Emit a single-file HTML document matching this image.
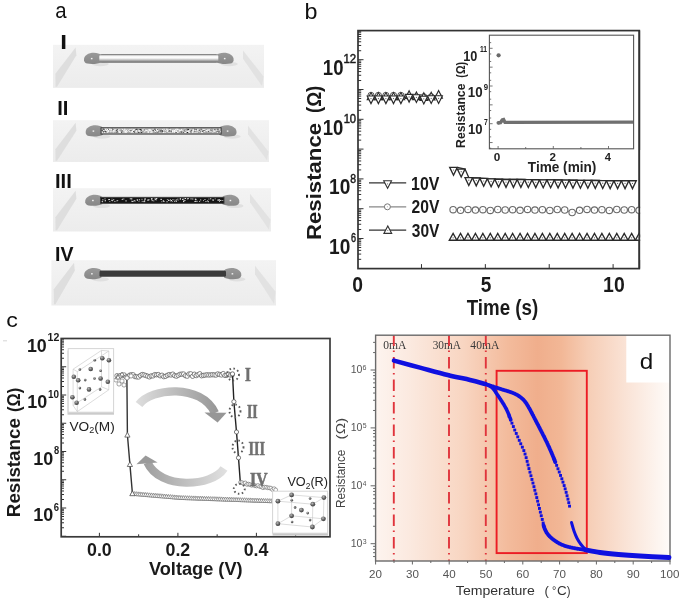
<!DOCTYPE html>
<html><head><meta charset="utf-8"><style>
html,body{margin:0;padding:0;background:#fff;width:685px;height:603px;overflow:hidden}
svg{display:block;filter:blur(0.35px)}
</style></head><body>
<svg width="685" height="603" viewBox="0 0 685 603">
<defs>
<linearGradient id="slab" x1="0" y1="0" x2="0" y2="1"><stop offset="0" stop-color="#f3f3f3"/><stop offset="1" stop-color="#ececec"/></linearGradient>
<linearGradient id="wire1" x1="0" y1="0" x2="0" y2="1"><stop offset="0" stop-color="#777"/><stop offset="0.1" stop-color="#9a9a9a"/><stop offset="0.2" stop-color="#f4f4f4"/><stop offset="0.45" stop-color="#fdfdfd"/><stop offset="0.62" stop-color="#cfcfcf"/><stop offset="0.85" stop-color="#8a8a8a"/><stop offset="1" stop-color="#6a6a6a"/></linearGradient>
<linearGradient id="padg" x1="0" y1="0" x2="0" y2="1"><stop offset="0" stop-color="#999"/><stop offset="1" stop-color="#878787"/></linearGradient>
<radialGradient id="sph" cx="0.4" cy="0.35" r="0.65"><stop offset="0" stop-color="#bdbdbd"/><stop offset="0.5" stop-color="#6f6f6f"/><stop offset="1" stop-color="#3a3a3a"/></radialGradient>
<linearGradient id="arrU" gradientUnits="userSpaceOnUse" x1="136" y1="0" x2="222" y2="0"><stop offset="0" stop-color="#dedede"/><stop offset="1" stop-color="#939393"/></linearGradient>
<linearGradient id="arrL" gradientUnits="userSpaceOnUse" x1="140" y1="0" x2="228" y2="0"><stop offset="0" stop-color="#9a9a9a"/><stop offset="1" stop-color="#e2e2e2"/></linearGradient>
<linearGradient id="dgrad" x1="0" y1="0" x2="1" y2="0">
<stop offset="0" stop-color="#fdf4ef"/><stop offset="0.12" stop-color="#fbe9df"/><stop offset="0.3" stop-color="#f8d5c1"/>
<stop offset="0.45" stop-color="#f3bb9c"/><stop offset="0.55" stop-color="#f0ae8c"/><stop offset="0.63" stop-color="#f2b796"/>
<stop offset="0.72" stop-color="#f6cdb5"/><stop offset="0.85" stop-color="#fae3d6"/><stop offset="1" stop-color="#fefbf9"/></linearGradient>
</defs>
<rect width="685" height="603" fill="#fff"/>
<text x="55.23" y="18.00" font-size="22" font-weight="normal" fill="#111" font-family='"Liberation Sans", sans-serif' textLength="11.37" lengthAdjust="spacingAndGlyphs" >a</text>
<rect x="53" y="44.8" width="211" height="43.10000000000001" fill="url(#slab)"/>
<polygon points="75.6,47.4 76.4,55.3 57,86.7 55.6,86.7 55.4,73.8" fill="#dcdcdc" opacity="0.9"/>
<polygon points="243,50.4 263.5,76.4 262,86.10000000000001 243,58.8" fill="#e0e0e0" opacity="0.9"/>
<ellipse cx="100.3" cy="64.0" rx="8.5" ry="2.2" fill="#e0e0e0"/>
<ellipse cx="229.3" cy="64.0" rx="8.5" ry="2.2" fill="#e0e0e0"/>
<path d="M84.00,60.40 C83.40,55.40 88.80,52.80 93.80,52.80 C97.30,52.90 99.80,53.80 100.90,55.00 L101.30,62.20 C98.30,64.00 91.30,64.40 87.30,63.50 C85.30,63.00 84.30,62.00 84.00,60.40 Z" fill="url(#padg)"/>
<rect x="90.9" y="57.9" width="1.6" height="1.4" fill="#f2f2f2"/>
<path d="M233.60,60.40 C234.20,55.40 228.80,52.80 223.80,52.80 C220.30,52.90 217.80,53.80 216.70,55.00 L216.30,62.20 C219.30,64.00 226.30,64.40 230.30,63.50 C232.30,63.00 233.30,62.00 233.60,60.40 Z" fill="url(#padg)"/>
<rect x="223.9" y="57.9" width="1.6" height="1.4" fill="#f2f2f2"/>
<rect x="99.3" y="54.1" width="119.00000000000001" height="8.6" rx="2.5" fill="url(#wire1)"/>
<rect x="53" y="120.2" width="216" height="41.8" fill="url(#slab)"/>
<polygon points="75.6,122.8 76.4,130.7 57,160.8 55.6,160.8 55.4,149.2" fill="#dcdcdc" opacity="0.9"/>
<polygon points="248,125.8 268.5,151.8 267,160.2 248,134.2" fill="#e0e0e0" opacity="0.9"/>
<ellipse cx="102.0" cy="136.5" rx="8.5" ry="2.2" fill="#e0e0e0"/>
<ellipse cx="232.2" cy="136.5" rx="8.5" ry="2.2" fill="#e0e0e0"/>
<path d="M85.70,132.90 C85.10,127.90 90.50,125.30 95.50,125.30 C99.00,125.40 101.50,126.30 102.60,127.50 L103.00,134.70 C100.00,136.50 93.00,136.90 89.00,136.00 C87.00,135.50 86.00,134.50 85.70,132.90 Z" fill="url(#padg)"/>
<rect x="92.6" y="130.4" width="1.6" height="1.4" fill="#f2f2f2"/>
<path d="M236.50,132.90 C237.10,127.90 231.70,125.30 226.70,125.30 C223.20,125.40 220.70,126.30 219.60,127.50 L219.20,134.70 C222.20,136.50 229.20,136.90 233.20,136.00 C235.20,135.50 236.20,134.50 236.50,132.90 Z" fill="url(#padg)"/>
<rect x="226.8" y="130.4" width="1.6" height="1.4" fill="#f2f2f2"/>
<rect x="101.0" y="127.70" width="120.19999999999999" height="6.4" fill="#a8a8a8"/>
<rect x="139.8" y="129.1" width="0.8" height="0.8" fill="#222"/>
<rect x="198.6" y="128.9" width="0.8" height="0.8" fill="#ffffff"/>
<rect x="105.9" y="130.1" width="0.8" height="0.8" fill="#ffffff"/>
<rect x="166.6" y="128.8" width="0.8" height="0.8" fill="#ffffff"/>
<rect x="176.0" y="130.6" width="1.3" height="1.0" fill="#ffffff"/>
<rect x="107.4" y="129.4" width="0.8" height="1.0" fill="#ffffff"/>
<rect x="151.0" y="130.5" width="1.0" height="0.8" fill="#ffffff"/>
<rect x="113.7" y="130.6" width="1.0" height="0.8" fill="#f6f6f6"/>
<rect x="166.2" y="128.8" width="1.3" height="0.8" fill="#ffffff"/>
<rect x="160.2" y="130.5" width="1.0" height="1.0" fill="#3a3a3a"/>
<rect x="170.7" y="130.2" width="0.8" height="0.8" fill="#ececec"/>
<rect x="184.1" y="129.5" width="1.0" height="1.0" fill="#ffffff"/>
<rect x="204.9" y="131.2" width="1.3" height="0.8" fill="#ececec"/>
<rect x="115.5" y="130.1" width="1.0" height="0.8" fill="#3a3a3a"/>
<rect x="211.8" y="130.1" width="0.8" height="1.0" fill="#222"/>
<rect x="141.7" y="129.8" width="1.3" height="1.0" fill="#ffffff"/>
<rect x="109.6" y="128.9" width="1.0" height="0.8" fill="#ececec"/>
<rect x="108.7" y="131.1" width="1.3" height="1.0" fill="#222"/>
<rect x="135.1" y="130.0" width="1.0" height="0.8" fill="#222"/>
<rect x="212.7" y="129.8" width="0.8" height="1.0" fill="#ffffff"/>
<rect x="108.5" y="131.3" width="1.3" height="0.8" fill="#f6f6f6"/>
<rect x="148.5" y="131.8" width="0.8" height="0.8" fill="#ffffff"/>
<rect x="154.6" y="130.5" width="1.0" height="1.0" fill="#f6f6f6"/>
<rect x="185.0" y="132.1" width="1.0" height="0.8" fill="#222"/>
<rect x="119.3" y="129.2" width="1.3" height="0.8" fill="#f6f6f6"/>
<rect x="102.9" y="131.5" width="1.0" height="1.0" fill="#f6f6f6"/>
<rect x="102.0" y="130.1" width="1.3" height="1.0" fill="#ececec"/>
<rect x="214.2" y="131.0" width="1.3" height="0.8" fill="#ffffff"/>
<rect x="155.5" y="131.6" width="1.3" height="1.0" fill="#3a3a3a"/>
<rect x="148.6" y="130.0" width="1.3" height="1.0" fill="#ffffff"/>
<rect x="108.9" y="128.8" width="1.0" height="0.8" fill="#f6f6f6"/>
<rect x="114.5" y="130.7" width="0.8" height="0.8" fill="#ffffff"/>
<rect x="164.9" y="131.9" width="0.8" height="0.8" fill="#ffffff"/>
<rect x="204.8" y="130.7" width="1.3" height="1.0" fill="#f6f6f6"/>
<rect x="214.4" y="130.7" width="0.8" height="0.8" fill="#ffffff"/>
<rect x="201.8" y="132.1" width="1.0" height="1.0" fill="#ffffff"/>
<rect x="138.4" y="129.1" width="1.0" height="1.0" fill="#222"/>
<rect x="158.1" y="131.0" width="0.8" height="0.8" fill="#ffffff"/>
<rect x="213.9" y="130.4" width="1.3" height="0.8" fill="#f6f6f6"/>
<rect x="191.1" y="129.6" width="0.8" height="1.0" fill="#222"/>
<rect x="162.8" y="131.8" width="0.8" height="1.0" fill="#ececec"/>
<rect x="176.7" y="130.7" width="0.8" height="0.8" fill="#3a3a3a"/>
<rect x="198.2" y="131.2" width="0.8" height="1.0" fill="#f6f6f6"/>
<rect x="143.5" y="128.7" width="1.0" height="1.0" fill="#ffffff"/>
<rect x="132.1" y="131.0" width="1.0" height="1.0" fill="#ececec"/>
<rect x="214.4" y="129.9" width="0.8" height="0.8" fill="#f6f6f6"/>
<rect x="157.1" y="129.8" width="1.3" height="0.8" fill="#ffffff"/>
<rect x="158.2" y="130.9" width="1.3" height="0.8" fill="#3a3a3a"/>
<rect x="200.2" y="129.0" width="1.3" height="0.8" fill="#ffffff"/>
<rect x="158.0" y="129.2" width="1.3" height="1.0" fill="#3a3a3a"/>
<rect x="111.8" y="131.9" width="1.0" height="1.0" fill="#222"/>
<rect x="148.9" y="131.9" width="0.8" height="0.8" fill="#222"/>
<rect x="218.9" y="128.7" width="1.0" height="0.8" fill="#ffffff"/>
<rect x="173.8" y="130.7" width="1.3" height="1.0" fill="#ffffff"/>
<rect x="119.9" y="130.5" width="0.8" height="0.8" fill="#ffffff"/>
<rect x="163.7" y="131.9" width="0.8" height="0.8" fill="#ffffff"/>
<rect x="104.8" y="129.3" width="0.8" height="1.0" fill="#ffffff"/>
<rect x="132.2" y="130.1" width="0.8" height="1.0" fill="#f6f6f6"/>
<rect x="207.6" y="130.9" width="1.3" height="1.0" fill="#3a3a3a"/>
<rect x="199.3" y="131.7" width="1.3" height="0.8" fill="#f6f6f6"/>
<rect x="163.4" y="128.7" width="0.8" height="0.8" fill="#ffffff"/>
<rect x="193.2" y="129.1" width="1.0" height="0.8" fill="#f6f6f6"/>
<rect x="167.3" y="129.7" width="1.3" height="1.0" fill="#ffffff"/>
<rect x="194.2" y="129.0" width="0.8" height="0.8" fill="#ffffff"/>
<rect x="124.1" y="128.7" width="1.3" height="1.0" fill="#ffffff"/>
<rect x="167.9" y="131.3" width="1.0" height="1.0" fill="#ffffff"/>
<rect x="173.9" y="130.4" width="0.8" height="1.0" fill="#ffffff"/>
<rect x="155.0" y="130.5" width="1.3" height="0.8" fill="#ffffff"/>
<rect x="184.1" y="131.7" width="1.3" height="0.8" fill="#ececec"/>
<rect x="200.8" y="129.1" width="1.0" height="1.0" fill="#ffffff"/>
<rect x="138.8" y="130.9" width="0.8" height="0.8" fill="#ffffff"/>
<rect x="180.6" y="131.3" width="0.8" height="1.0" fill="#3a3a3a"/>
<rect x="118.4" y="131.7" width="0.8" height="0.8" fill="#ffffff"/>
<rect x="148.6" y="130.3" width="0.8" height="0.8" fill="#222"/>
<rect x="185.0" y="132.1" width="1.0" height="1.0" fill="#ffffff"/>
<rect x="124.6" y="129.7" width="1.0" height="0.8" fill="#222"/>
<rect x="141.4" y="130.2" width="0.8" height="1.0" fill="#222"/>
<rect x="140.7" y="130.8" width="0.8" height="0.8" fill="#ffffff"/>
<rect x="217.9" y="131.4" width="0.8" height="1.0" fill="#ffffff"/>
<rect x="133.6" y="131.8" width="1.0" height="0.8" fill="#f6f6f6"/>
<rect x="198.4" y="131.6" width="1.0" height="1.0" fill="#222"/>
<rect x="119.2" y="131.8" width="1.0" height="1.0" fill="#ffffff"/>
<rect x="112.1" y="128.8" width="0.8" height="1.0" fill="#222"/>
<rect x="207.3" y="129.5" width="1.3" height="0.8" fill="#ffffff"/>
<rect x="196.3" y="128.9" width="0.8" height="0.8" fill="#3a3a3a"/>
<rect x="132.8" y="129.0" width="1.0" height="1.0" fill="#ffffff"/>
<rect x="211.0" y="129.5" width="0.8" height="0.8" fill="#f6f6f6"/>
<rect x="212.4" y="132.0" width="0.8" height="0.8" fill="#ececec"/>
<rect x="125.3" y="129.7" width="1.3" height="0.8" fill="#ececec"/>
<rect x="135.8" y="130.4" width="1.0" height="1.0" fill="#f6f6f6"/>
<rect x="196.5" y="132.1" width="0.8" height="0.8" fill="#ffffff"/>
<rect x="188.2" y="130.5" width="1.3" height="1.0" fill="#f6f6f6"/>
<rect x="130.5" y="130.2" width="1.3" height="1.0" fill="#222"/>
<rect x="179.1" y="130.5" width="1.3" height="1.0" fill="#ffffff"/>
<rect x="182.8" y="132.0" width="0.8" height="0.8" fill="#ececec"/>
<rect x="149.3" y="129.8" width="0.8" height="0.8" fill="#ffffff"/>
<rect x="109.9" y="131.2" width="1.0" height="0.8" fill="#ececec"/>
<rect x="108.0" y="130.9" width="1.3" height="1.0" fill="#ffffff"/>
<rect x="172.3" y="131.0" width="1.0" height="0.8" fill="#ffffff"/>
<rect x="120.1" y="130.2" width="1.0" height="1.0" fill="#ececec"/>
<rect x="216.5" y="130.5" width="0.8" height="1.0" fill="#f6f6f6"/>
<rect x="127.3" y="129.2" width="1.0" height="0.8" fill="#ececec"/>
<rect x="157.6" y="130.4" width="0.8" height="0.8" fill="#f6f6f6"/>
<rect x="112.2" y="131.5" width="1.0" height="0.8" fill="#f6f6f6"/>
<rect x="148.1" y="129.6" width="0.8" height="0.8" fill="#222"/>
<rect x="170.7" y="130.5" width="0.8" height="1.0" fill="#3a3a3a"/>
<rect x="191.8" y="131.1" width="0.8" height="1.0" fill="#ffffff"/>
<rect x="187.1" y="130.9" width="1.3" height="1.0" fill="#ffffff"/>
<rect x="188.2" y="131.4" width="1.3" height="0.8" fill="#f6f6f6"/>
<rect x="199.2" y="130.6" width="1.3" height="0.8" fill="#222"/>
<rect x="111.6" y="128.7" width="1.0" height="0.8" fill="#222"/>
<rect x="146.0" y="130.2" width="1.3" height="0.8" fill="#ffffff"/>
<rect x="175.5" y="131.0" width="1.0" height="0.8" fill="#ffffff"/>
<rect x="155.5" y="128.8" width="1.3" height="0.8" fill="#ffffff"/>
<rect x="179.4" y="128.8" width="1.0" height="1.0" fill="#222"/>
<rect x="197.1" y="131.6" width="1.3" height="0.8" fill="#f6f6f6"/>
<rect x="128.8" y="130.9" width="1.0" height="1.0" fill="#ffffff"/>
<rect x="110.6" y="131.8" width="0.8" height="0.8" fill="#ececec"/>
<rect x="110.7" y="129.1" width="1.3" height="1.0" fill="#ececec"/>
<rect x="174.9" y="129.1" width="0.8" height="1.0" fill="#ffffff"/>
<rect x="133.3" y="131.0" width="0.8" height="1.0" fill="#222"/>
<rect x="135.9" y="130.4" width="1.0" height="1.0" fill="#ffffff"/>
<rect x="192.2" y="132.1" width="0.8" height="1.0" fill="#ffffff"/>
<rect x="217.1" y="131.9" width="1.0" height="1.0" fill="#ffffff"/>
<rect x="110.5" y="130.4" width="1.0" height="1.0" fill="#ffffff"/>
<rect x="126.3" y="131.9" width="0.8" height="0.8" fill="#f6f6f6"/>
<rect x="118.3" y="130.4" width="0.8" height="1.0" fill="#ececec"/>
<rect x="206.3" y="131.1" width="1.0" height="1.0" fill="#f6f6f6"/>
<rect x="148.1" y="129.2" width="1.3" height="1.0" fill="#ffffff"/>
<rect x="149.4" y="131.1" width="1.0" height="1.0" fill="#ffffff"/>
<rect x="138.9" y="131.5" width="1.0" height="1.0" fill="#ffffff"/>
<rect x="200.7" y="129.0" width="1.3" height="0.8" fill="#f6f6f6"/>
<rect x="208.1" y="129.6" width="0.8" height="1.0" fill="#ececec"/>
<rect x="147.6" y="131.6" width="1.0" height="1.0" fill="#ffffff"/>
<rect x="190.8" y="131.6" width="0.8" height="0.8" fill="#ececec"/>
<rect x="200.2" y="129.6" width="0.8" height="1.0" fill="#f6f6f6"/>
<rect x="153.1" y="129.7" width="1.0" height="1.0" fill="#3a3a3a"/>
<rect x="206.0" y="131.4" width="1.0" height="0.8" fill="#222"/>
<rect x="186.6" y="128.8" width="1.0" height="1.0" fill="#222"/>
<rect x="174.2" y="129.1" width="1.0" height="1.0" fill="#3a3a3a"/>
<rect x="107.3" y="131.8" width="0.8" height="1.0" fill="#f6f6f6"/>
<rect x="150.5" y="129.6" width="1.3" height="1.0" fill="#ececec"/>
<rect x="149.5" y="129.4" width="1.3" height="1.0" fill="#ffffff"/>
<rect x="115.7" y="130.9" width="0.8" height="1.0" fill="#ffffff"/>
<rect x="166.6" y="130.2" width="1.0" height="1.0" fill="#ececec"/>
<rect x="118.0" y="129.3" width="0.8" height="1.0" fill="#ffffff"/>
<rect x="167.2" y="129.7" width="1.0" height="0.8" fill="#ececec"/>
<rect x="206.4" y="131.2" width="1.0" height="1.0" fill="#ffffff"/>
<rect x="189.7" y="129.3" width="1.0" height="0.8" fill="#ececec"/>
<rect x="160.4" y="130.6" width="0.8" height="0.8" fill="#ececec"/>
<rect x="112.4" y="131.7" width="1.0" height="1.0" fill="#ffffff"/>
<rect x="152.5" y="129.7" width="0.8" height="0.8" fill="#3a3a3a"/>
<rect x="105.3" y="131.1" width="1.0" height="1.0" fill="#3a3a3a"/>
<rect x="101.5" y="130.0" width="1.3" height="1.0" fill="#3a3a3a"/>
<rect x="216.4" y="129.5" width="0.8" height="0.8" fill="#ffffff"/>
<rect x="119.5" y="132.0" width="1.3" height="1.0" fill="#ffffff"/>
<rect x="111.5" y="131.3" width="0.8" height="0.8" fill="#ffffff"/>
<rect x="168.8" y="128.7" width="1.0" height="0.8" fill="#222"/>
<rect x="175.5" y="130.4" width="1.3" height="0.8" fill="#ffffff"/>
<rect x="113.3" y="129.7" width="0.8" height="1.0" fill="#ffffff"/>
<rect x="132.3" y="131.4" width="0.8" height="1.0" fill="#ffffff"/>
<rect x="219.3" y="129.6" width="1.3" height="0.8" fill="#ececec"/>
<rect x="157.7" y="129.4" width="0.8" height="1.0" fill="#f6f6f6"/>
<rect x="184.8" y="129.7" width="0.8" height="1.0" fill="#ffffff"/>
<rect x="206.1" y="130.9" width="1.0" height="0.8" fill="#ffffff"/>
<rect x="180.4" y="131.8" width="1.0" height="0.8" fill="#f6f6f6"/>
<rect x="183.7" y="131.1" width="1.3" height="1.0" fill="#ececec"/>
<rect x="124.9" y="131.4" width="1.3" height="0.8" fill="#222"/>
<rect x="125.8" y="132.0" width="0.8" height="0.8" fill="#ececec"/>
<rect x="156.5" y="129.5" width="0.8" height="1.0" fill="#ececec"/>
<rect x="173.6" y="131.7" width="1.0" height="0.8" fill="#ffffff"/>
<rect x="213.6" y="129.1" width="0.8" height="0.8" fill="#ffffff"/>
<rect x="104.3" y="130.7" width="0.8" height="0.8" fill="#ffffff"/>
<rect x="123.3" y="130.2" width="1.0" height="0.8" fill="#222"/>
<rect x="219.4" y="131.9" width="0.8" height="0.8" fill="#ececec"/>
<rect x="178.6" y="130.4" width="0.8" height="1.0" fill="#ffffff"/>
<rect x="180.0" y="129.9" width="1.0" height="1.0" fill="#ececec"/>
<rect x="121.5" y="128.6" width="0.8" height="1.0" fill="#ececec"/>
<rect x="151.2" y="131.7" width="0.8" height="1.0" fill="#ffffff"/>
<rect x="143.7" y="131.5" width="1.0" height="0.8" fill="#3a3a3a"/>
<rect x="107.3" y="130.3" width="1.3" height="1.0" fill="#ececec"/>
<rect x="124.3" y="129.9" width="0.8" height="1.0" fill="#ffffff"/>
<rect x="130.8" y="130.8" width="0.8" height="1.0" fill="#ffffff"/>
<rect x="105.6" y="128.8" width="1.0" height="0.8" fill="#ffffff"/>
<rect x="189.8" y="131.7" width="1.0" height="1.0" fill="#ececec"/>
<rect x="141.1" y="131.9" width="1.0" height="1.0" fill="#ffffff"/>
<rect x="210.7" y="129.6" width="1.3" height="0.8" fill="#222"/>
<rect x="104.4" y="129.4" width="1.3" height="1.0" fill="#ffffff"/>
<rect x="214.3" y="130.0" width="1.0" height="1.0" fill="#ececec"/>
<rect x="117.2" y="130.3" width="1.3" height="1.0" fill="#ffffff"/>
<rect x="198.7" y="131.3" width="0.8" height="1.0" fill="#ffffff"/>
<rect x="203.3" y="130.2" width="1.3" height="0.8" fill="#3a3a3a"/>
<rect x="162.0" y="130.0" width="0.8" height="1.0" fill="#f6f6f6"/>
<rect x="109.2" y="128.7" width="1.3" height="1.0" fill="#ffffff"/>
<rect x="120.5" y="130.1" width="0.8" height="1.0" fill="#ffffff"/>
<rect x="175.3" y="129.3" width="1.0" height="1.0" fill="#ffffff"/>
<rect x="122.0" y="129.1" width="1.3" height="0.8" fill="#ffffff"/>
<rect x="189.9" y="131.6" width="0.8" height="1.0" fill="#222"/>
<rect x="136.2" y="130.6" width="1.0" height="1.0" fill="#ececec"/>
<rect x="125.0" y="129.5" width="0.8" height="0.8" fill="#f6f6f6"/>
<rect x="134.8" y="131.8" width="1.0" height="0.8" fill="#f6f6f6"/>
<rect x="148.3" y="132.1" width="1.3" height="0.8" fill="#ffffff"/>
<rect x="178.3" y="129.0" width="0.8" height="0.8" fill="#ffffff"/>
<rect x="102.0" y="131.7" width="1.0" height="1.0" fill="#f6f6f6"/>
<rect x="106.3" y="129.6" width="0.8" height="0.8" fill="#ffffff"/>
<rect x="172.5" y="131.5" width="0.8" height="1.0" fill="#f6f6f6"/>
<rect x="162.1" y="129.2" width="1.0" height="0.8" fill="#ffffff"/>
<rect x="114.0" y="130.7" width="1.0" height="0.8" fill="#ffffff"/>
<rect x="105.9" y="129.8" width="0.8" height="1.0" fill="#ffffff"/>
<rect x="106.0" y="131.2" width="0.8" height="1.0" fill="#f6f6f6"/>
<rect x="149.8" y="129.9" width="1.0" height="0.8" fill="#ffffff"/>
<rect x="125.5" y="131.4" width="1.0" height="0.8" fill="#ffffff"/>
<rect x="149.7" y="131.4" width="1.3" height="0.8" fill="#222"/>
<rect x="177.1" y="128.9" width="1.0" height="1.0" fill="#f6f6f6"/>
<rect x="149.9" y="129.6" width="1.0" height="0.8" fill="#ececec"/>
<rect x="138.4" y="130.6" width="1.0" height="1.0" fill="#ececec"/>
<rect x="103.7" y="131.3" width="1.0" height="0.8" fill="#3a3a3a"/>
<rect x="147.7" y="130.0" width="1.0" height="0.8" fill="#ffffff"/>
<rect x="151.6" y="131.5" width="1.3" height="1.0" fill="#ffffff"/>
<rect x="156.0" y="129.2" width="0.8" height="0.8" fill="#ffffff"/>
<rect x="177.2" y="131.8" width="1.3" height="1.0" fill="#ffffff"/>
<rect x="188.6" y="129.2" width="1.0" height="0.8" fill="#ececec"/>
<rect x="163.1" y="131.8" width="1.0" height="1.0" fill="#ffffff"/>
<rect x="190.6" y="131.4" width="0.8" height="1.0" fill="#3a3a3a"/>
<rect x="116.5" y="131.9" width="1.0" height="0.8" fill="#ffffff"/>
<rect x="173.3" y="130.8" width="1.3" height="0.8" fill="#ffffff"/>
<rect x="177.2" y="131.6" width="1.0" height="0.8" fill="#ffffff"/>
<rect x="199.5" y="129.2" width="0.8" height="1.0" fill="#f6f6f6"/>
<rect x="212.4" y="129.1" width="0.8" height="0.8" fill="#ececec"/>
<rect x="130.7" y="131.1" width="0.8" height="0.8" fill="#f6f6f6"/>
<rect x="180.4" y="129.7" width="1.3" height="1.0" fill="#ffffff"/>
<rect x="166.5" y="130.8" width="1.3" height="1.0" fill="#ececec"/>
<rect x="137.9" y="129.5" width="1.3" height="1.0" fill="#ffffff"/>
<rect x="154.3" y="130.1" width="0.8" height="1.0" fill="#ffffff"/>
<rect x="156.5" y="130.2" width="1.0" height="0.8" fill="#ffffff"/>
<rect x="197.3" y="130.0" width="0.8" height="1.0" fill="#ffffff"/>
<rect x="152.4" y="128.9" width="1.3" height="0.8" fill="#ffffff"/>
<rect x="106.3" y="129.1" width="1.0" height="0.8" fill="#222"/>
<rect x="107.9" y="130.4" width="1.3" height="0.8" fill="#ffffff"/>
<rect x="104.6" y="128.8" width="1.3" height="0.8" fill="#ffffff"/>
<rect x="124.4" y="132.0" width="1.0" height="0.8" fill="#ffffff"/>
<rect x="182.6" y="131.1" width="0.8" height="1.0" fill="#f6f6f6"/>
<rect x="173.7" y="129.5" width="1.3" height="1.0" fill="#ececec"/>
<rect x="208.5" y="130.2" width="1.3" height="1.0" fill="#ececec"/>
<rect x="126.1" y="129.5" width="0.8" height="1.0" fill="#ffffff"/>
<rect x="145.5" y="129.3" width="0.8" height="1.0" fill="#ffffff"/>
<rect x="181.8" y="131.7" width="1.0" height="0.8" fill="#f6f6f6"/>
<rect x="192.3" y="128.8" width="1.0" height="1.0" fill="#3a3a3a"/>
<rect x="167.1" y="130.6" width="1.0" height="1.0" fill="#ffffff"/>
<rect x="188.7" y="129.9" width="1.0" height="0.8" fill="#ffffff"/>
<rect x="144.1" y="131.3" width="0.8" height="0.8" fill="#ffffff"/>
<rect x="174.2" y="132.0" width="1.3" height="1.0" fill="#ececec"/>
<rect x="138.2" y="132.0" width="1.3" height="1.0" fill="#3a3a3a"/>
<rect x="188.1" y="131.2" width="0.8" height="1.0" fill="#f6f6f6"/>
<rect x="174.3" y="130.1" width="1.0" height="0.8" fill="#ffffff"/>
<rect x="117.1" y="129.4" width="0.8" height="0.8" fill="#222"/>
<rect x="107.9" y="130.6" width="0.8" height="1.0" fill="#ececec"/>
<rect x="164.6" y="130.0" width="1.3" height="0.8" fill="#ececec"/>
<rect x="125.6" y="130.8" width="0.8" height="0.8" fill="#ffffff"/>
<rect x="103.2" y="131.4" width="0.8" height="1.0" fill="#222"/>
<rect x="112.8" y="130.8" width="1.3" height="1.0" fill="#3a3a3a"/>
<rect x="149.0" y="129.5" width="0.8" height="1.0" fill="#ffffff"/>
<rect x="171.8" y="130.6" width="1.3" height="1.0" fill="#ffffff"/>
<rect x="130.9" y="131.8" width="0.8" height="0.8" fill="#ffffff"/>
<rect x="149.5" y="129.4" width="0.8" height="0.8" fill="#ffffff"/>
<rect x="173.9" y="130.9" width="0.8" height="1.0" fill="#f6f6f6"/>
<rect x="125.1" y="130.7" width="1.3" height="1.0" fill="#ffffff"/>
<rect x="197.6" y="129.2" width="0.8" height="1.0" fill="#ececec"/>
<rect x="175.5" y="132.1" width="1.0" height="0.8" fill="#222"/>
<rect x="145.8" y="130.1" width="0.8" height="1.0" fill="#ffffff"/>
<rect x="122.2" y="132.1" width="0.8" height="0.8" fill="#ececec"/>
<rect x="116.1" y="131.7" width="1.0" height="0.8" fill="#222"/>
<rect x="132.9" y="130.5" width="1.3" height="1.0" fill="#ffffff"/>
<rect x="136.4" y="131.8" width="0.8" height="0.8" fill="#f6f6f6"/>
<rect x="121.6" y="131.8" width="1.3" height="0.8" fill="#3a3a3a"/>
<rect x="213.2" y="131.2" width="0.8" height="1.0" fill="#ececec"/>
<rect x="140.3" y="129.4" width="1.3" height="1.0" fill="#3a3a3a"/>
<rect x="157.3" y="130.5" width="0.8" height="1.0" fill="#ffffff"/>
<rect x="214.5" y="129.4" width="0.8" height="1.0" fill="#ececec"/>
<rect x="175.1" y="128.9" width="0.8" height="0.8" fill="#f6f6f6"/>
<rect x="104.7" y="129.0" width="1.0" height="0.8" fill="#f6f6f6"/>
<rect x="184.3" y="128.7" width="1.3" height="0.8" fill="#f6f6f6"/>
<rect x="183.9" y="131.2" width="1.3" height="1.0" fill="#ffffff"/>
<rect x="125.1" y="131.9" width="1.3" height="0.8" fill="#ffffff"/>
<rect x="205.5" y="131.2" width="1.0" height="0.8" fill="#222"/>
<rect x="130.6" y="129.3" width="0.8" height="0.8" fill="#ffffff"/>
<rect x="199.0" y="130.8" width="1.0" height="0.8" fill="#ececec"/>
<rect x="117.2" y="131.4" width="0.8" height="1.0" fill="#222"/>
<rect x="139.2" y="130.1" width="1.0" height="1.0" fill="#ffffff"/>
<rect x="211.4" y="128.8" width="1.0" height="1.0" fill="#3a3a3a"/>
<rect x="192.4" y="130.7" width="1.0" height="0.8" fill="#ffffff"/>
<rect x="194.8" y="128.7" width="0.8" height="1.0" fill="#ffffff"/>
<rect x="156.9" y="128.8" width="0.8" height="0.8" fill="#ffffff"/>
<rect x="169.4" y="129.6" width="0.8" height="0.8" fill="#ffffff"/>
<rect x="135.6" y="131.2" width="0.8" height="1.0" fill="#ffffff"/>
<rect x="159.5" y="130.3" width="0.8" height="1.0" fill="#3a3a3a"/>
<rect x="171.5" y="132.0" width="1.0" height="0.8" fill="#ffffff"/>
<rect x="135.0" y="129.4" width="0.8" height="1.0" fill="#222"/>
<rect x="121.1" y="131.9" width="0.8" height="1.0" fill="#3a3a3a"/>
<rect x="194.6" y="131.0" width="0.8" height="1.0" fill="#3a3a3a"/>
<rect x="143.5" y="130.0" width="1.3" height="0.8" fill="#ffffff"/>
<rect x="151.4" y="130.9" width="0.8" height="1.0" fill="#ececec"/>
<rect x="132.6" y="131.8" width="0.8" height="1.0" fill="#ffffff"/>
<rect x="217.6" y="130.8" width="0.8" height="0.8" fill="#ffffff"/>
<rect x="142.7" y="129.7" width="1.0" height="1.0" fill="#f6f6f6"/>
<rect x="121.5" y="130.1" width="1.0" height="0.8" fill="#3a3a3a"/>
<rect x="116.4" y="130.2" width="0.8" height="0.8" fill="#222"/>
<rect x="133.1" y="131.2" width="1.3" height="0.8" fill="#3a3a3a"/>
<rect x="187.0" y="132.0" width="1.0" height="1.0" fill="#222"/>
<rect x="120.5" y="129.7" width="1.0" height="0.8" fill="#f6f6f6"/>
<rect x="121.0" y="130.9" width="1.0" height="0.8" fill="#f6f6f6"/>
<rect x="217.8" y="131.4" width="1.0" height="1.0" fill="#222"/>
<rect x="133.9" y="129.0" width="1.0" height="0.8" fill="#ffffff"/>
<rect x="206.1" y="130.2" width="1.0" height="1.0" fill="#ffffff"/>
<rect x="183.5" y="130.4" width="1.0" height="1.0" fill="#222"/>
<rect x="104.1" y="129.5" width="1.0" height="0.8" fill="#222"/>
<rect x="189.1" y="131.8" width="1.3" height="1.0" fill="#ffffff"/>
<rect x="201.5" y="130.9" width="1.3" height="0.8" fill="#222"/>
<rect x="181.8" y="130.8" width="1.0" height="1.0" fill="#ffffff"/>
<rect x="132.2" y="131.1" width="0.8" height="1.0" fill="#ffffff"/>
<rect x="185.8" y="130.8" width="1.0" height="1.0" fill="#ececec"/>
<rect x="155.3" y="130.8" width="1.3" height="0.8" fill="#ffffff"/>
<rect x="207.2" y="129.7" width="1.0" height="1.0" fill="#ffffff"/>
<rect x="208.8" y="129.0" width="1.3" height="0.8" fill="#ececec"/>
<rect x="120.5" y="131.3" width="1.3" height="1.0" fill="#f6f6f6"/>
<rect x="113.4" y="130.6" width="0.8" height="1.0" fill="#ffffff"/>
<rect x="162.0" y="130.8" width="1.0" height="1.0" fill="#3a3a3a"/>
<rect x="150.0" y="131.9" width="1.3" height="0.8" fill="#f6f6f6"/>
<rect x="147.9" y="131.3" width="1.3" height="1.0" fill="#ffffff"/>
<rect x="176.9" y="129.5" width="1.0" height="0.8" fill="#ffffff"/>
<rect x="103.1" y="130.1" width="1.3" height="1.0" fill="#ffffff"/>
<rect x="170.1" y="129.0" width="1.3" height="1.0" fill="#ececec"/>
<rect x="212.6" y="130.4" width="1.0" height="1.0" fill="#f6f6f6"/>
<rect x="126.6" y="129.1" width="0.8" height="0.8" fill="#3a3a3a"/>
<rect x="157.0" y="130.6" width="0.8" height="1.0" fill="#f6f6f6"/>
<rect x="180.2" y="131.5" width="1.0" height="1.0" fill="#3a3a3a"/>
<rect x="219.2" y="131.3" width="0.8" height="1.0" fill="#222"/>
<rect x="143.4" y="131.6" width="1.3" height="1.0" fill="#ececec"/>
<rect x="182.8" y="132.0" width="0.8" height="1.0" fill="#222"/>
<rect x="101.8" y="131.1" width="1.0" height="0.8" fill="#ececec"/>
<rect x="178.9" y="129.7" width="1.0" height="0.8" fill="#ffffff"/>
<rect x="179.4" y="129.9" width="1.0" height="0.8" fill="#ececec"/>
<rect x="111.6" y="130.6" width="0.8" height="1.0" fill="#ececec"/>
<rect x="176.3" y="128.7" width="0.8" height="0.8" fill="#ffffff"/>
<rect x="179.0" y="129.5" width="1.3" height="0.8" fill="#ffffff"/>
<rect x="202.5" y="129.2" width="1.0" height="0.8" fill="#ffffff"/>
<rect x="126.1" y="130.0" width="0.8" height="0.8" fill="#ffffff"/>
<rect x="180.5" y="131.7" width="1.3" height="1.0" fill="#3a3a3a"/>
<rect x="124.8" y="131.0" width="0.8" height="1.0" fill="#ffffff"/>
<rect x="180.8" y="129.0" width="1.0" height="1.0" fill="#ffffff"/>
<rect x="129.2" y="129.1" width="1.3" height="0.8" fill="#ffffff"/>
<rect x="158.8" y="131.8" width="1.0" height="0.8" fill="#222"/>
<rect x="160.4" y="130.5" width="1.3" height="0.8" fill="#3a3a3a"/>
<rect x="120.5" y="129.7" width="1.3" height="1.0" fill="#222"/>
<rect x="180.1" y="131.5" width="1.0" height="1.0" fill="#ececec"/>
<rect x="219.7" y="131.0" width="1.3" height="1.0" fill="#f6f6f6"/>
<rect x="176.7" y="128.7" width="0.8" height="1.0" fill="#ffffff"/>
<rect x="197.1" y="128.9" width="1.0" height="0.8" fill="#ffffff"/>
<rect x="105.5" y="131.1" width="0.8" height="1.0" fill="#222"/>
<rect x="112.7" y="130.9" width="1.0" height="0.8" fill="#ececec"/>
<rect x="135.1" y="129.8" width="1.3" height="0.8" fill="#ececec"/>
<rect x="199.2" y="129.6" width="1.0" height="1.0" fill="#3a3a3a"/>
<rect x="140.9" y="132.0" width="1.3" height="1.0" fill="#3a3a3a"/>
<rect x="216.7" y="130.9" width="0.8" height="1.0" fill="#3a3a3a"/>
<rect x="124.2" y="131.1" width="1.3" height="0.8" fill="#f6f6f6"/>
<rect x="194.2" y="128.7" width="1.3" height="1.0" fill="#222"/>
<rect x="166.0" y="128.8" width="0.8" height="0.8" fill="#ececec"/>
<rect x="107.0" y="131.5" width="1.3" height="0.8" fill="#ffffff"/>
<rect x="194.8" y="131.8" width="1.0" height="0.8" fill="#ffffff"/>
<rect x="175.6" y="131.0" width="1.3" height="0.8" fill="#ffffff"/>
<rect x="126.6" y="130.9" width="1.3" height="0.8" fill="#ffffff"/>
<rect x="113.5" y="129.2" width="1.0" height="0.8" fill="#ffffff"/>
<rect x="209.5" y="130.9" width="0.8" height="1.0" fill="#ececec"/>
<rect x="167.9" y="129.5" width="0.8" height="1.0" fill="#ececec"/>
<rect x="105.5" y="128.7" width="1.3" height="0.8" fill="#ffffff"/>
<rect x="160.3" y="130.4" width="0.8" height="1.0" fill="#3a3a3a"/>
<rect x="169.5" y="131.8" width="0.8" height="0.8" fill="#ffffff"/>
<rect x="181.9" y="130.7" width="0.8" height="1.0" fill="#222"/>
<rect x="192.5" y="130.5" width="1.3" height="1.0" fill="#ffffff"/>
<rect x="126.6" y="129.1" width="1.0" height="0.8" fill="#ffffff"/>
<rect x="102.6" y="130.9" width="0.8" height="0.8" fill="#3a3a3a"/>
<rect x="204.3" y="129.1" width="1.0" height="0.8" fill="#ffffff"/>
<rect x="154.8" y="131.2" width="1.0" height="0.8" fill="#ffffff"/>
<rect x="187.8" y="128.9" width="1.3" height="1.0" fill="#222"/>
<rect x="155.9" y="131.9" width="0.8" height="0.8" fill="#ececec"/>
<rect x="102.8" y="128.7" width="1.3" height="0.8" fill="#222"/>
<rect x="147.5" y="129.7" width="0.8" height="1.0" fill="#ffffff"/>
<rect x="173.5" y="129.7" width="1.3" height="1.0" fill="#ffffff"/>
<rect x="157.0" y="129.2" width="0.8" height="1.0" fill="#3a3a3a"/>
<rect x="214.3" y="129.2" width="1.0" height="1.0" fill="#3a3a3a"/>
<rect x="147.1" y="131.4" width="1.3" height="1.0" fill="#ececec"/>
<rect x="136.1" y="128.8" width="1.3" height="1.0" fill="#222"/>
<rect x="204.3" y="131.1" width="0.8" height="1.0" fill="#ffffff"/>
<rect x="170.6" y="132.0" width="1.0" height="1.0" fill="#f6f6f6"/>
<rect x="182.4" y="130.7" width="1.0" height="1.0" fill="#f6f6f6"/>
<rect x="182.9" y="129.7" width="1.0" height="0.8" fill="#ececec"/>
<rect x="170.8" y="131.5" width="0.8" height="1.0" fill="#3a3a3a"/>
<rect x="200.0" y="131.4" width="1.3" height="0.8" fill="#3a3a3a"/>
<rect x="133.9" y="131.6" width="1.3" height="1.0" fill="#3a3a3a"/>
<rect x="142.5" y="128.9" width="1.0" height="1.0" fill="#ffffff"/>
<rect x="125.2" y="131.2" width="1.0" height="0.8" fill="#f6f6f6"/>
<rect x="181.6" y="130.2" width="1.0" height="0.8" fill="#f6f6f6"/>
<rect x="195.1" y="130.2" width="1.3" height="1.0" fill="#ffffff"/>
<rect x="192.8" y="129.4" width="1.3" height="1.0" fill="#ffffff"/>
<rect x="206.1" y="130.4" width="1.3" height="0.8" fill="#ffffff"/>
<rect x="123.9" y="129.3" width="1.3" height="1.0" fill="#f6f6f6"/>
<rect x="144.4" y="130.6" width="1.3" height="0.8" fill="#ffffff"/>
<rect x="130.6" y="131.8" width="1.0" height="0.8" fill="#ffffff"/>
<rect x="145.4" y="130.2" width="0.8" height="1.0" fill="#ffffff"/>
<rect x="172.1" y="129.8" width="1.3" height="0.8" fill="#ffffff"/>
<rect x="112.6" y="129.3" width="1.3" height="1.0" fill="#3a3a3a"/>
<rect x="170.8" y="129.3" width="1.0" height="1.0" fill="#3a3a3a"/>
<rect x="113.0" y="130.2" width="1.3" height="0.8" fill="#ffffff"/>
<rect x="131.5" y="128.7" width="0.8" height="1.0" fill="#f6f6f6"/>
<rect x="111.4" y="128.8" width="1.0" height="1.0" fill="#ffffff"/>
<rect x="159.0" y="131.6" width="1.3" height="1.0" fill="#ffffff"/>
<rect x="210.5" y="131.1" width="1.0" height="1.0" fill="#ffffff"/>
<rect x="168.2" y="130.8" width="1.3" height="1.0" fill="#222"/>
<rect x="123.1" y="131.6" width="0.8" height="0.8" fill="#ececec"/>
<rect x="121.8" y="131.9" width="0.8" height="0.8" fill="#ececec"/>
<rect x="200.5" y="128.8" width="1.3" height="1.0" fill="#3a3a3a"/>
<rect x="108.1" y="129.1" width="0.8" height="0.8" fill="#3a3a3a"/>
<rect x="181.5" y="129.6" width="1.0" height="0.8" fill="#ffffff"/>
<rect x="157.1" y="129.9" width="0.8" height="1.0" fill="#ffffff"/>
<rect x="158.4" y="129.2" width="0.8" height="0.8" fill="#f6f6f6"/>
<rect x="156.8" y="131.8" width="0.8" height="0.8" fill="#3a3a3a"/>
<rect x="211.2" y="129.4" width="1.0" height="0.8" fill="#ffffff"/>
<rect x="193.5" y="132.0" width="0.8" height="0.8" fill="#ffffff"/>
<rect x="155.0" y="129.8" width="0.8" height="1.0" fill="#3a3a3a"/>
<rect x="115.2" y="129.9" width="0.8" height="0.8" fill="#ececec"/>
<rect x="122.8" y="130.2" width="1.0" height="0.8" fill="#f6f6f6"/>
<rect x="133.0" y="130.0" width="0.8" height="1.0" fill="#f6f6f6"/>
<rect x="169.0" y="129.6" width="0.8" height="1.0" fill="#3a3a3a"/>
<rect x="159.5" y="129.7" width="0.8" height="0.8" fill="#ffffff"/>
<rect x="217.2" y="128.8" width="1.3" height="0.8" fill="#3a3a3a"/>
<rect x="167.7" y="131.5" width="1.0" height="0.8" fill="#ffffff"/>
<rect x="216.2" y="130.1" width="0.8" height="0.8" fill="#ececec"/>
<rect x="113.0" y="129.6" width="0.8" height="1.0" fill="#f6f6f6"/>
<rect x="118.6" y="130.8" width="1.3" height="1.0" fill="#ffffff"/>
<rect x="161.9" y="130.2" width="1.3" height="1.0" fill="#3a3a3a"/>
<rect x="123.5" y="130.1" width="0.8" height="1.0" fill="#ffffff"/>
<rect x="169.0" y="129.1" width="1.3" height="0.8" fill="#f6f6f6"/>
<rect x="185.6" y="129.3" width="0.8" height="1.0" fill="#ffffff"/>
<rect x="191.5" y="129.2" width="1.3" height="0.8" fill="#f6f6f6"/>
<rect x="170.4" y="129.3" width="1.3" height="1.0" fill="#ffffff"/>
<rect x="200.9" y="131.8" width="1.0" height="1.0" fill="#ffffff"/>
<rect x="134.8" y="130.8" width="0.8" height="0.8" fill="#ffffff"/>
<rect x="149.9" y="131.3" width="1.3" height="1.0" fill="#f6f6f6"/>
<rect x="130.9" y="130.6" width="0.8" height="0.8" fill="#ececec"/>
<rect x="184.5" y="130.6" width="0.8" height="1.0" fill="#3a3a3a"/>
<rect x="162.9" y="130.2" width="0.8" height="0.8" fill="#ffffff"/>
<rect x="143.7" y="129.5" width="1.0" height="1.0" fill="#3a3a3a"/>
<rect x="169.6" y="131.7" width="0.8" height="1.0" fill="#ececec"/>
<rect x="154.3" y="128.7" width="1.3" height="0.8" fill="#3a3a3a"/>
<rect x="103.9" y="132.0" width="1.3" height="0.8" fill="#f6f6f6"/>
<rect x="121.3" y="129.7" width="0.8" height="0.8" fill="#ffffff"/>
<rect x="112.9" y="131.0" width="1.0" height="0.8" fill="#f6f6f6"/>
<rect x="200.5" y="130.8" width="1.3" height="0.8" fill="#ffffff"/>
<rect x="184.6" y="129.0" width="0.8" height="0.8" fill="#3a3a3a"/>
<rect x="106.8" y="129.0" width="1.3" height="1.0" fill="#ffffff"/>
<rect x="114.5" y="129.0" width="1.3" height="0.8" fill="#f6f6f6"/>
<rect x="203.3" y="129.1" width="1.0" height="1.0" fill="#ffffff"/>
<rect x="120.9" y="131.5" width="1.0" height="1.0" fill="#222"/>
<rect x="172.1" y="130.7" width="1.0" height="0.8" fill="#ffffff"/>
<rect x="193.3" y="129.8" width="1.0" height="1.0" fill="#f6f6f6"/>
<rect x="201.1" y="130.6" width="1.0" height="0.8" fill="#ececec"/>
<rect x="139.9" y="129.1" width="1.0" height="0.8" fill="#222"/>
<rect x="204.4" y="130.9" width="1.0" height="0.8" fill="#ffffff"/>
<rect x="164.2" y="128.8" width="0.8" height="0.8" fill="#ffffff"/>
<rect x="128.2" y="130.1" width="1.0" height="0.8" fill="#ffffff"/>
<rect x="101.0" y="127.70" width="120.19999999999999" height="6.4" fill="none" stroke="#3a3a3a" stroke-width="0.9"/>
<rect x="53" y="188.2" width="218" height="43.30000000000001" fill="url(#slab)"/>
<polygon points="75.6,190.79999999999998 76.4,198.7 57,230.3 55.6,230.3 55.4,217.2" fill="#dcdcdc" opacity="0.9"/>
<polygon points="250,193.79999999999998 270.5,219.79999999999998 269,229.7 250,202.2" fill="#e0e0e0" opacity="0.9"/>
<ellipse cx="101.5" cy="205.9" rx="8.5" ry="2.2" fill="#e0e0e0"/>
<ellipse cx="235.0" cy="205.9" rx="8.5" ry="2.2" fill="#e0e0e0"/>
<path d="M85.20,202.30 C84.60,197.30 90.00,194.70 95.00,194.70 C98.50,194.80 101.00,195.70 102.10,196.90 L102.50,204.10 C99.50,205.90 92.50,206.30 88.50,205.40 C86.50,204.90 85.50,203.90 85.20,202.30 Z" fill="url(#padg)"/>
<rect x="92.1" y="199.8" width="1.6" height="1.4" fill="#f2f2f2"/>
<path d="M239.30,202.30 C239.90,197.30 234.50,194.70 229.50,194.70 C226.00,194.80 223.50,195.70 222.40,196.90 L222.00,204.10 C225.00,205.90 232.00,206.30 236.00,205.40 C238.00,204.90 239.00,203.90 239.30,202.30 Z" fill="url(#padg)"/>
<rect x="229.6" y="199.8" width="1.6" height="1.4" fill="#f2f2f2"/>
<rect x="100.5" y="197.30" width="123.5" height="6.0" fill="#141414"/>
<rect x="199.3" y="200.9" width="0.8" height="1.0" fill="#ffffff"/>
<rect x="212.5" y="200.1" width="1.3" height="0.8" fill="#cfcfcf"/>
<rect x="176.5" y="199.0" width="0.8" height="1.0" fill="#cfcfcf"/>
<rect x="129.8" y="198.3" width="1.0" height="1.0" fill="#ffffff"/>
<rect x="179.7" y="198.6" width="1.3" height="1.0" fill="#cfcfcf"/>
<rect x="111.3" y="200.0" width="1.0" height="0.8" fill="#ffffff"/>
<rect x="163.2" y="200.9" width="1.3" height="1.0" fill="#e8e8e8"/>
<rect x="134.3" y="200.5" width="1.3" height="1.0" fill="#cfcfcf"/>
<rect x="203.0" y="200.1" width="0.8" height="1.0" fill="#cfcfcf"/>
<rect x="125.4" y="200.4" width="1.3" height="1.0" fill="#e8e8e8"/>
<rect x="175.5" y="199.7" width="0.8" height="0.8" fill="#e8e8e8"/>
<rect x="141.5" y="198.8" width="1.0" height="1.0" fill="#cfcfcf"/>
<rect x="102.4" y="199.3" width="1.0" height="1.0" fill="#ffffff"/>
<rect x="160.7" y="199.1" width="1.0" height="0.8" fill="#ffffff"/>
<rect x="194.8" y="198.7" width="1.3" height="1.0" fill="#ffffff"/>
<rect x="154.5" y="198.4" width="1.0" height="1.0" fill="#e8e8e8"/>
<rect x="190.4" y="198.5" width="1.3" height="0.8" fill="#ffffff"/>
<rect x="151.6" y="200.3" width="1.3" height="0.8" fill="#ffffff"/>
<rect x="175.9" y="200.8" width="0.8" height="1.0" fill="#cfcfcf"/>
<rect x="133.6" y="200.2" width="1.3" height="0.8" fill="#cfcfcf"/>
<rect x="151.2" y="198.5" width="1.3" height="0.8" fill="#e8e8e8"/>
<rect x="161.5" y="201.2" width="0.8" height="1.0" fill="#cfcfcf"/>
<rect x="204.3" y="199.1" width="1.3" height="0.8" fill="#cfcfcf"/>
<rect x="147.1" y="199.6" width="1.0" height="1.0" fill="#e8e8e8"/>
<rect x="136.6" y="199.4" width="1.3" height="1.0" fill="#cfcfcf"/>
<rect x="179.8" y="198.2" width="1.0" height="1.0" fill="#cfcfcf"/>
<rect x="154.9" y="198.8" width="0.8" height="1.0" fill="#e8e8e8"/>
<rect x="170.9" y="200.0" width="1.0" height="1.0" fill="#ffffff"/>
<rect x="218.7" y="200.1" width="1.0" height="0.8" fill="#ffffff"/>
<rect x="219.1" y="201.0" width="0.8" height="0.8" fill="#ffffff"/>
<rect x="132.2" y="201.0" width="1.3" height="1.0" fill="#e8e8e8"/>
<rect x="166.4" y="201.3" width="1.3" height="1.0" fill="#cfcfcf"/>
<rect x="148.3" y="199.3" width="1.3" height="1.0" fill="#cfcfcf"/>
<rect x="156.0" y="198.2" width="1.3" height="0.8" fill="#ffffff"/>
<rect x="113.0" y="199.4" width="1.3" height="0.8" fill="#e8e8e8"/>
<rect x="207.9" y="201.2" width="1.0" height="1.0" fill="#e8e8e8"/>
<rect x="194.2" y="201.0" width="1.0" height="0.8" fill="#cfcfcf"/>
<rect x="121.7" y="199.2" width="1.0" height="0.8" fill="#ffffff"/>
<rect x="114.4" y="201.0" width="1.0" height="1.0" fill="#cfcfcf"/>
<rect x="177.7" y="199.8" width="0.8" height="0.8" fill="#cfcfcf"/>
<rect x="151.1" y="198.4" width="1.3" height="0.8" fill="#cfcfcf"/>
<rect x="143.9" y="201.3" width="1.3" height="0.8" fill="#cfcfcf"/>
<rect x="185.0" y="198.2" width="1.0" height="0.8" fill="#ffffff"/>
<rect x="212.4" y="199.4" width="1.3" height="0.8" fill="#ffffff"/>
<rect x="182.2" y="198.8" width="1.3" height="1.0" fill="#e8e8e8"/>
<rect x="206.8" y="201.0" width="0.8" height="0.8" fill="#cfcfcf"/>
<rect x="150.9" y="198.6" width="1.3" height="0.8" fill="#ffffff"/>
<rect x="104.5" y="198.4" width="1.0" height="1.0" fill="#cfcfcf"/>
<rect x="175.5" y="200.7" width="1.3" height="0.8" fill="#ffffff"/>
<rect x="184.2" y="200.0" width="1.3" height="0.8" fill="#ffffff"/>
<rect x="144.0" y="198.7" width="1.3" height="0.8" fill="#e8e8e8"/>
<rect x="205.4" y="201.1" width="1.0" height="0.8" fill="#ffffff"/>
<rect x="155.7" y="199.4" width="0.8" height="1.0" fill="#ffffff"/>
<rect x="171.8" y="201.2" width="0.8" height="0.8" fill="#e8e8e8"/>
<rect x="131.3" y="198.3" width="0.8" height="1.0" fill="#cfcfcf"/>
<rect x="101.7" y="200.9" width="1.0" height="1.0" fill="#e8e8e8"/>
<rect x="174.2" y="201.2" width="0.8" height="0.8" fill="#e8e8e8"/>
<rect x="183.3" y="200.3" width="0.8" height="1.0" fill="#cfcfcf"/>
<rect x="138.6" y="200.9" width="0.8" height="0.8" fill="#e8e8e8"/>
<rect x="111.6" y="198.7" width="0.8" height="0.8" fill="#e8e8e8"/>
<rect x="219.0" y="199.1" width="1.0" height="0.8" fill="#cfcfcf"/>
<rect x="141.7" y="200.9" width="1.0" height="0.8" fill="#e8e8e8"/>
<rect x="217.8" y="199.5" width="1.3" height="0.8" fill="#e8e8e8"/>
<rect x="148.1" y="199.6" width="0.8" height="1.0" fill="#e8e8e8"/>
<rect x="105.2" y="200.3" width="0.8" height="0.8" fill="#e8e8e8"/>
<rect x="186.8" y="198.5" width="1.3" height="0.8" fill="#e8e8e8"/>
<rect x="168.4" y="199.6" width="0.8" height="1.0" fill="#ffffff"/>
<rect x="143.9" y="200.4" width="1.3" height="0.8" fill="#e8e8e8"/>
<rect x="137.1" y="199.7" width="0.8" height="1.0" fill="#ffffff"/>
<rect x="183.0" y="201.1" width="1.3" height="1.0" fill="#e8e8e8"/>
<rect x="172.4" y="199.3" width="1.0" height="0.8" fill="#ffffff"/>
<rect x="116.3" y="200.5" width="1.3" height="0.8" fill="#cfcfcf"/>
<rect x="166.9" y="199.0" width="0.8" height="0.8" fill="#e8e8e8"/>
<rect x="138.8" y="199.4" width="1.3" height="0.8" fill="#ffffff"/>
<rect x="195.3" y="198.9" width="1.3" height="0.8" fill="#ffffff"/>
<rect x="109.3" y="201.0" width="1.0" height="0.8" fill="#cfcfcf"/>
<rect x="109.0" y="199.2" width="1.0" height="0.8" fill="#ffffff"/>
<rect x="200.2" y="199.4" width="1.0" height="1.0" fill="#e8e8e8"/>
<rect x="195.2" y="200.9" width="1.0" height="0.8" fill="#ffffff"/>
<rect x="104.6" y="200.3" width="1.3" height="1.0" fill="#cfcfcf"/>
<rect x="210.0" y="198.3" width="1.3" height="1.0" fill="#cfcfcf"/>
<rect x="131.2" y="200.8" width="1.3" height="0.8" fill="#e8e8e8"/>
<rect x="123.1" y="198.6" width="1.3" height="0.8" fill="#cfcfcf"/>
<rect x="187.6" y="198.3" width="1.3" height="0.8" fill="#ffffff"/>
<rect x="153.3" y="200.5" width="1.0" height="0.8" fill="#ffffff"/>
<rect x="168.1" y="200.2" width="1.3" height="0.8" fill="#ffffff"/>
<rect x="170.3" y="200.4" width="1.0" height="1.0" fill="#e8e8e8"/>
<rect x="214.7" y="198.5" width="1.0" height="0.8" fill="#cfcfcf"/>
<rect x="207.3" y="200.0" width="0.8" height="0.8" fill="#cfcfcf"/>
<rect x="183.7" y="198.3" width="0.8" height="1.0" fill="#e8e8e8"/>
<rect x="192.1" y="198.5" width="1.3" height="1.0" fill="#cfcfcf"/>
<rect x="222.3" y="200.1" width="1.0" height="0.8" fill="#ffffff"/>
<rect x="143.4" y="201.1" width="1.0" height="1.0" fill="#e8e8e8"/>
<rect x="162.8" y="200.3" width="1.0" height="0.8" fill="#ffffff"/>
<rect x="160.5" y="198.8" width="1.3" height="1.0" fill="#cfcfcf"/>
<rect x="122.2" y="198.7" width="0.8" height="1.0" fill="#cfcfcf"/>
<rect x="131.3" y="198.4" width="1.0" height="1.0" fill="#e8e8e8"/>
<rect x="112.2" y="200.2" width="0.8" height="1.0" fill="#ffffff"/>
<rect x="182.4" y="198.9" width="0.8" height="1.0" fill="#ffffff"/>
<rect x="117.2" y="200.2" width="1.0" height="0.8" fill="#cfcfcf"/>
<rect x="208.5" y="198.6" width="0.8" height="1.0" fill="#cfcfcf"/>
<rect x="177.5" y="198.6" width="0.8" height="0.8" fill="#e8e8e8"/>
<rect x="173.7" y="199.6" width="0.8" height="0.8" fill="#e8e8e8"/>
<rect x="184.9" y="198.2" width="0.8" height="0.8" fill="#e8e8e8"/>
<rect x="108.3" y="199.1" width="0.8" height="1.0" fill="#ffffff"/>
<rect x="155.4" y="198.6" width="1.0" height="1.0" fill="#e8e8e8"/>
<rect x="170.2" y="199.1" width="0.8" height="0.8" fill="#cfcfcf"/>
<rect x="102.3" y="201.3" width="0.8" height="1.0" fill="#e8e8e8"/>
<rect x="220.1" y="199.9" width="1.3" height="1.0" fill="#ffffff"/>
<rect x="217.2" y="199.7" width="1.0" height="0.8" fill="#cfcfcf"/>
<rect x="144.7" y="198.5" width="1.3" height="1.0" fill="#e8e8e8"/>
<rect x="180.3" y="198.4" width="0.8" height="0.8" fill="#cfcfcf"/>
<rect x="195.1" y="200.8" width="1.0" height="0.8" fill="#e8e8e8"/>
<rect x="217.9" y="199.8" width="0.8" height="0.8" fill="#cfcfcf"/>
<rect x="196.3" y="200.8" width="1.3" height="1.0" fill="#cfcfcf"/>
<rect x="100.5" y="197.30" width="123.5" height="6.0" fill="none" stroke="#3a3a3a" stroke-width="0.9"/>
<rect x="51.4" y="260.2" width="224.6" height="45.30000000000001" fill="url(#slab)"/>
<polygon points="74.0,262.8 74.8,270.7 55.4,304.3 54.0,304.3 53.8,289.2" fill="#dcdcdc" opacity="0.9"/>
<polygon points="255,265.8 275.5,291.8 274,303.7 255,274.2" fill="#e0e0e0" opacity="0.9"/>
<ellipse cx="100.5" cy="279.2" rx="8.5" ry="2.2" fill="#e0e0e0"/>
<ellipse cx="237.0" cy="279.2" rx="8.5" ry="2.2" fill="#e0e0e0"/>
<path d="M84.20,275.60 C83.60,270.60 89.00,268.00 94.00,268.00 C97.50,268.10 100.00,269.00 101.10,270.20 L101.50,277.40 C98.50,279.20 91.50,279.60 87.50,278.70 C85.50,278.20 84.50,277.20 84.20,275.60 Z" fill="url(#padg)"/>
<rect x="91.1" y="273.1" width="1.6" height="1.4" fill="#f2f2f2"/>
<path d="M241.30,275.60 C241.90,270.60 236.50,268.00 231.50,268.00 C228.00,268.10 225.50,269.00 224.40,270.20 L224.00,277.40 C227.00,279.20 234.00,279.60 238.00,278.70 C240.00,278.20 241.00,277.20 241.30,275.60 Z" fill="url(#padg)"/>
<rect x="231.6" y="273.1" width="1.6" height="1.4" fill="#f2f2f2"/>
<rect x="99.5" y="270.5" width="126.5" height="6.2" rx="1.5" fill="#3a3a3a"/>
<text x="60.27" y="48.90" font-size="20" font-weight="bold" fill="#111" font-family='"Liberation Sans", sans-serif' textLength="6.75" lengthAdjust="spacingAndGlyphs" >I</text>
<text x="57.15" y="114.50" font-size="20" font-weight="bold" fill="#111" font-family='"Liberation Sans", sans-serif' textLength="11.20" lengthAdjust="spacingAndGlyphs" >II</text>
<text x="54.95" y="188.00" font-size="20" font-weight="bold" fill="#111" font-family='"Liberation Sans", sans-serif' textLength="16.80" lengthAdjust="spacingAndGlyphs" >III</text>
<text x="54.99" y="261.30" font-size="20" font-weight="bold" fill="#111" font-family='"Liberation Sans", sans-serif' textLength="18.44" lengthAdjust="spacingAndGlyphs" >IV</text>
<text x="304.60" y="18.70" font-size="22" font-weight="normal" fill="#111" font-family='"Liberation Sans", sans-serif' textLength="12.99" lengthAdjust="spacingAndGlyphs" >b</text>
<line x1="358.00" y1="259.33" x2="361.20" y2="259.33" stroke="#333" stroke-width="1.0" />
<line x1="358.00" y1="254.08" x2="361.20" y2="254.08" stroke="#333" stroke-width="1.0" />
<line x1="358.00" y1="250.36" x2="361.20" y2="250.36" stroke="#333" stroke-width="1.0" />
<line x1="358.00" y1="247.47" x2="361.20" y2="247.47" stroke="#333" stroke-width="1.0" />
<line x1="358.00" y1="245.11" x2="361.20" y2="245.11" stroke="#333" stroke-width="1.0" />
<line x1="358.00" y1="243.12" x2="361.20" y2="243.12" stroke="#333" stroke-width="1.0" />
<line x1="358.00" y1="241.39" x2="361.20" y2="241.39" stroke="#333" stroke-width="1.0" />
<line x1="358.00" y1="239.86" x2="361.20" y2="239.86" stroke="#333" stroke-width="1.0" />
<line x1="358.00" y1="238.50" x2="363.50" y2="238.50" stroke="#333" stroke-width="1.0" />
<line x1="358.00" y1="229.53" x2="361.20" y2="229.53" stroke="#333" stroke-width="1.0" />
<line x1="358.00" y1="224.28" x2="361.20" y2="224.28" stroke="#333" stroke-width="1.0" />
<line x1="358.00" y1="220.56" x2="361.20" y2="220.56" stroke="#333" stroke-width="1.0" />
<line x1="358.00" y1="217.67" x2="361.20" y2="217.67" stroke="#333" stroke-width="1.0" />
<line x1="358.00" y1="215.31" x2="361.20" y2="215.31" stroke="#333" stroke-width="1.0" />
<line x1="358.00" y1="213.32" x2="361.20" y2="213.32" stroke="#333" stroke-width="1.0" />
<line x1="358.00" y1="211.59" x2="361.20" y2="211.59" stroke="#333" stroke-width="1.0" />
<line x1="358.00" y1="210.06" x2="361.20" y2="210.06" stroke="#333" stroke-width="1.0" />
<line x1="358.00" y1="208.70" x2="363.50" y2="208.70" stroke="#333" stroke-width="1.0" />
<line x1="358.00" y1="199.73" x2="361.20" y2="199.73" stroke="#333" stroke-width="1.0" />
<line x1="358.00" y1="194.48" x2="361.20" y2="194.48" stroke="#333" stroke-width="1.0" />
<line x1="358.00" y1="190.76" x2="361.20" y2="190.76" stroke="#333" stroke-width="1.0" />
<line x1="358.00" y1="187.87" x2="361.20" y2="187.87" stroke="#333" stroke-width="1.0" />
<line x1="358.00" y1="185.51" x2="361.20" y2="185.51" stroke="#333" stroke-width="1.0" />
<line x1="358.00" y1="183.52" x2="361.20" y2="183.52" stroke="#333" stroke-width="1.0" />
<line x1="358.00" y1="181.79" x2="361.20" y2="181.79" stroke="#333" stroke-width="1.0" />
<line x1="358.00" y1="180.26" x2="361.20" y2="180.26" stroke="#333" stroke-width="1.0" />
<line x1="358.00" y1="178.90" x2="363.50" y2="178.90" stroke="#333" stroke-width="1.0" />
<line x1="358.00" y1="169.93" x2="361.20" y2="169.93" stroke="#333" stroke-width="1.0" />
<line x1="358.00" y1="164.68" x2="361.20" y2="164.68" stroke="#333" stroke-width="1.0" />
<line x1="358.00" y1="160.96" x2="361.20" y2="160.96" stroke="#333" stroke-width="1.0" />
<line x1="358.00" y1="158.07" x2="361.20" y2="158.07" stroke="#333" stroke-width="1.0" />
<line x1="358.00" y1="155.71" x2="361.20" y2="155.71" stroke="#333" stroke-width="1.0" />
<line x1="358.00" y1="153.72" x2="361.20" y2="153.72" stroke="#333" stroke-width="1.0" />
<line x1="358.00" y1="151.99" x2="361.20" y2="151.99" stroke="#333" stroke-width="1.0" />
<line x1="358.00" y1="150.46" x2="361.20" y2="150.46" stroke="#333" stroke-width="1.0" />
<line x1="358.00" y1="149.10" x2="363.50" y2="149.10" stroke="#333" stroke-width="1.0" />
<line x1="358.00" y1="140.13" x2="361.20" y2="140.13" stroke="#333" stroke-width="1.0" />
<line x1="358.00" y1="134.88" x2="361.20" y2="134.88" stroke="#333" stroke-width="1.0" />
<line x1="358.00" y1="131.16" x2="361.20" y2="131.16" stroke="#333" stroke-width="1.0" />
<line x1="358.00" y1="128.27" x2="361.20" y2="128.27" stroke="#333" stroke-width="1.0" />
<line x1="358.00" y1="125.91" x2="361.20" y2="125.91" stroke="#333" stroke-width="1.0" />
<line x1="358.00" y1="123.92" x2="361.20" y2="123.92" stroke="#333" stroke-width="1.0" />
<line x1="358.00" y1="122.19" x2="361.20" y2="122.19" stroke="#333" stroke-width="1.0" />
<line x1="358.00" y1="120.66" x2="361.20" y2="120.66" stroke="#333" stroke-width="1.0" />
<line x1="358.00" y1="119.30" x2="363.50" y2="119.30" stroke="#333" stroke-width="1.0" />
<line x1="358.00" y1="110.33" x2="361.20" y2="110.33" stroke="#333" stroke-width="1.0" />
<line x1="358.00" y1="105.08" x2="361.20" y2="105.08" stroke="#333" stroke-width="1.0" />
<line x1="358.00" y1="101.36" x2="361.20" y2="101.36" stroke="#333" stroke-width="1.0" />
<line x1="358.00" y1="98.47" x2="361.20" y2="98.47" stroke="#333" stroke-width="1.0" />
<line x1="358.00" y1="96.11" x2="361.20" y2="96.11" stroke="#333" stroke-width="1.0" />
<line x1="358.00" y1="94.12" x2="361.20" y2="94.12" stroke="#333" stroke-width="1.0" />
<line x1="358.00" y1="92.39" x2="361.20" y2="92.39" stroke="#333" stroke-width="1.0" />
<line x1="358.00" y1="90.86" x2="361.20" y2="90.86" stroke="#333" stroke-width="1.0" />
<line x1="358.00" y1="89.50" x2="363.50" y2="89.50" stroke="#333" stroke-width="1.0" />
<line x1="358.00" y1="80.53" x2="361.20" y2="80.53" stroke="#333" stroke-width="1.0" />
<line x1="358.00" y1="75.28" x2="361.20" y2="75.28" stroke="#333" stroke-width="1.0" />
<line x1="358.00" y1="71.56" x2="361.20" y2="71.56" stroke="#333" stroke-width="1.0" />
<line x1="358.00" y1="68.67" x2="361.20" y2="68.67" stroke="#333" stroke-width="1.0" />
<line x1="358.00" y1="66.31" x2="361.20" y2="66.31" stroke="#333" stroke-width="1.0" />
<line x1="358.00" y1="64.32" x2="361.20" y2="64.32" stroke="#333" stroke-width="1.0" />
<line x1="358.00" y1="62.59" x2="361.20" y2="62.59" stroke="#333" stroke-width="1.0" />
<line x1="358.00" y1="61.06" x2="361.20" y2="61.06" stroke="#333" stroke-width="1.0" />
<line x1="358.00" y1="59.70" x2="363.50" y2="59.70" stroke="#333" stroke-width="1.0" />
<line x1="358.00" y1="50.73" x2="361.20" y2="50.73" stroke="#333" stroke-width="1.0" />
<line x1="358.00" y1="45.48" x2="361.20" y2="45.48" stroke="#333" stroke-width="1.0" />
<line x1="358.00" y1="41.76" x2="361.20" y2="41.76" stroke="#333" stroke-width="1.0" />
<line x1="358.00" y1="38.87" x2="361.20" y2="38.87" stroke="#333" stroke-width="1.0" />
<line x1="358.00" y1="36.51" x2="361.20" y2="36.51" stroke="#333" stroke-width="1.0" />
<line x1="358.00" y1="34.52" x2="361.20" y2="34.52" stroke="#333" stroke-width="1.0" />
<line x1="358.00" y1="32.79" x2="361.20" y2="32.79" stroke="#333" stroke-width="1.0" />
<line x1="358.00" y1="31.26" x2="361.20" y2="31.26" stroke="#333" stroke-width="1.0" />
<line x1="421.48" y1="268.60" x2="421.48" y2="264.10" stroke="#333" stroke-width="1.0" />
<line x1="485.35" y1="268.60" x2="485.35" y2="264.10" stroke="#333" stroke-width="1.0" />
<line x1="549.23" y1="268.60" x2="549.23" y2="264.10" stroke="#333" stroke-width="1.0" />
<line x1="613.10" y1="268.60" x2="613.10" y2="264.10" stroke="#333" stroke-width="1.0" />
<rect x="358" y="30.6" width="281.29999999999995" height="238.00000000000003" fill="none" stroke="#333" stroke-width="1.7"/>
<text x="322.83" y="75.30" font-size="22.5" font-weight="bold" fill="#1a1a1a" font-family='"Liberation Sans", sans-serif' textLength="20.63" lengthAdjust="spacingAndGlyphs" >10</text>
<text x="343.43" y="63.00" font-size="12.2" font-weight="normal" fill="#1a1a1a" font-family='"Liberation Sans", sans-serif' textLength="12.75" lengthAdjust="spacingAndGlyphs" stroke="#1a1a1a" stroke-width="0.45">12</text>
<text x="322.73" y="134.60" font-size="22.5" font-weight="bold" fill="#1a1a1a" font-family='"Liberation Sans", sans-serif' textLength="20.63" lengthAdjust="spacingAndGlyphs" >10</text>
<text x="343.64" y="122.60" font-size="12.2" font-weight="normal" fill="#1a1a1a" font-family='"Liberation Sans", sans-serif' textLength="12.49" lengthAdjust="spacingAndGlyphs" stroke="#1a1a1a" stroke-width="0.45">10</text>
<text x="328.99" y="194.40" font-size="22.5" font-weight="bold" fill="#1a1a1a" font-family='"Liberation Sans", sans-serif' textLength="21.29" lengthAdjust="spacingAndGlyphs" >10</text>
<text x="350.25" y="182.60" font-size="12.2" font-weight="normal" fill="#1a1a1a" font-family='"Liberation Sans", sans-serif' textLength="5.81" lengthAdjust="spacingAndGlyphs" stroke="#1a1a1a" stroke-width="0.45">8</text>
<text x="328.99" y="254.10" font-size="22.5" font-weight="bold" fill="#1a1a1a" font-family='"Liberation Sans", sans-serif' textLength="21.29" lengthAdjust="spacingAndGlyphs" >10</text>
<text x="350.94" y="242.30" font-size="12.2" font-weight="normal" fill="#1a1a1a" font-family='"Liberation Sans", sans-serif' textLength="5.06" lengthAdjust="spacingAndGlyphs" stroke="#1a1a1a" stroke-width="0.45">6</text>
<text transform="translate(320.50,239.98) rotate(-90)" x="0" y="0" font-size="20" font-weight="bold" fill="#1a1a1a" font-family='"Liberation Sans", sans-serif' textLength="117.04" lengthAdjust="spacingAndGlyphs">Resistance</text>
<text transform="translate(320.50,113.03) rotate(-90)" x="0" y="0" font-size="20" font-weight="bold" fill="#1a1a1a" font-family='"Liberation Sans", sans-serif' textLength="27.36" lengthAdjust="spacingAndGlyphs">(Ω)</text>
<text x="352.33" y="292.40" font-size="22" font-weight="bold" fill="#1a1a1a" font-family='"Liberation Sans", sans-serif' textLength="10.76" lengthAdjust="spacingAndGlyphs" >0</text>
<text x="480.71" y="292.40" font-size="22" font-weight="bold" fill="#1a1a1a" font-family='"Liberation Sans", sans-serif' textLength="10.62" lengthAdjust="spacingAndGlyphs" >5</text>
<text x="603.08" y="292.40" font-size="22" font-weight="bold" fill="#1a1a1a" font-family='"Liberation Sans", sans-serif' textLength="21.62" lengthAdjust="spacingAndGlyphs" >10</text>
<text x="466.69" y="314.70" font-size="22.3" font-weight="bold" fill="#1a1a1a" font-family='"Liberation Sans", sans-serif' textLength="71.44" lengthAdjust="spacingAndGlyphs" >Time (s)</text>
<line x1="369.00" y1="182.90" x2="406.20" y2="182.90" stroke="#333" stroke-width="1.2" />
<polygon points="383.70,180.80 391.50,180.80 387.60,188.20" fill="#fff" stroke="#333" stroke-width="1.1"/>
<circle cx="387.60" cy="183.90" r="0.55" fill="#666"/>
<text x="411.10" y="189.60" font-size="18.7" font-weight="bold" fill="#1a1a1a" font-family='"Liberation Sans", sans-serif' textLength="28.31" lengthAdjust="spacingAndGlyphs" >10V</text>
<line x1="369.00" y1="206.80" x2="406.20" y2="206.80" stroke="#888" stroke-width="1.2" />
<circle cx="387.40" cy="206.80" r="3.0" fill="#fff" stroke="#777" stroke-width="1.0"/>
<circle cx="387.40" cy="206.80" r="0.5" fill="#999"/>
<text x="411.56" y="213.10" font-size="18.7" font-weight="bold" fill="#1a1a1a" font-family='"Liberation Sans", sans-serif' textLength="27.85" lengthAdjust="spacingAndGlyphs" >20V</text>
<line x1="369.00" y1="230.20" x2="406.20" y2="230.20" stroke="#333" stroke-width="1.2" />
<polygon points="383.90,233.40 391.70,233.40 387.80,226.00" fill="#fff" stroke="#333" stroke-width="1.1"/>
<circle cx="387.80" cy="230.50" r="0.55" fill="#666"/>
<text x="411.74" y="236.90" font-size="18.7" font-weight="bold" fill="#1a1a1a" font-family='"Liberation Sans", sans-serif' textLength="27.66" lengthAdjust="spacingAndGlyphs" >30V</text>
<line x1="370.00" y1="97.50" x2="439.00" y2="97.50" stroke="#333" stroke-width="1.1" />
<circle cx="371.00" cy="95.40" r="3.1" fill="#fff" stroke="#555" stroke-width="1.0"/>
<circle cx="371.00" cy="95.40" r="0.5" fill="#999"/>
<polygon points="367.20,99.80 374.80,99.80 371.00,92.60" fill="#fff" stroke="#2a2a2a" stroke-width="1.1"/>
<circle cx="371.00" cy="97.40" r="0.6" fill="#555"/>
<circle cx="378.40" cy="95.40" r="3.1" fill="#fff" stroke="#555" stroke-width="1.0"/>
<circle cx="378.40" cy="95.40" r="0.5" fill="#999"/>
<polygon points="374.60,99.80 382.20,99.80 378.40,92.60" fill="#fff" stroke="#2a2a2a" stroke-width="1.1"/>
<circle cx="378.40" cy="97.40" r="0.6" fill="#555"/>
<circle cx="385.90" cy="95.40" r="3.1" fill="#fff" stroke="#555" stroke-width="1.0"/>
<circle cx="385.90" cy="95.40" r="0.5" fill="#999"/>
<polygon points="382.10,99.80 389.70,99.80 385.90,92.60" fill="#fff" stroke="#2a2a2a" stroke-width="1.1"/>
<circle cx="385.90" cy="97.40" r="0.6" fill="#555"/>
<circle cx="393.50" cy="95.40" r="3.1" fill="#fff" stroke="#555" stroke-width="1.0"/>
<circle cx="393.50" cy="95.40" r="0.5" fill="#999"/>
<polygon points="389.70,99.80 397.30,99.80 393.50,92.60" fill="#fff" stroke="#2a2a2a" stroke-width="1.1"/>
<circle cx="393.50" cy="97.40" r="0.6" fill="#555"/>
<circle cx="400.90" cy="95.40" r="3.1" fill="#fff" stroke="#555" stroke-width="1.0"/>
<circle cx="400.90" cy="95.40" r="0.5" fill="#999"/>
<polygon points="397.10,99.80 404.70,99.80 400.90,92.60" fill="#fff" stroke="#2a2a2a" stroke-width="1.1"/>
<circle cx="400.90" cy="97.40" r="0.6" fill="#555"/>
<polygon points="367.20,96.00 374.80,96.00 371.00,103.60" fill="#fff" stroke="#2a2a2a" stroke-width="1.15" stroke-linejoin="miter"/>
<circle cx="371.00" cy="98.60" r="0.6" fill="#555"/>
<polygon points="374.60,96.00 382.20,96.00 378.40,103.60" fill="#fff" stroke="#2a2a2a" stroke-width="1.15" stroke-linejoin="miter"/>
<circle cx="378.40" cy="98.60" r="0.6" fill="#555"/>
<polygon points="382.10,96.00 389.70,96.00 385.90,103.60" fill="#fff" stroke="#2a2a2a" stroke-width="1.15" stroke-linejoin="miter"/>
<circle cx="385.90" cy="98.60" r="0.6" fill="#555"/>
<polygon points="389.70,96.00 397.30,96.00 393.50,103.60" fill="#fff" stroke="#2a2a2a" stroke-width="1.15" stroke-linejoin="miter"/>
<circle cx="393.50" cy="98.60" r="0.6" fill="#555"/>
<polygon points="397.10,96.00 404.70,96.00 400.90,103.60" fill="#fff" stroke="#2a2a2a" stroke-width="1.15" stroke-linejoin="miter"/>
<circle cx="400.90" cy="98.60" r="0.6" fill="#555"/>
<circle cx="409.10" cy="96.80" r="3.1" fill="#fff" stroke="#555" stroke-width="1.0"/>
<circle cx="409.10" cy="96.80" r="0.5" fill="#999"/>
<polygon points="405.30,98.40 412.90,98.40 409.10,90.80" fill="#fff" stroke="#2a2a2a" stroke-width="1.15"/>
<circle cx="409.10" cy="96.00" r="0.6" fill="#555"/>
<polygon points="405.30,94.30 412.90,94.30 409.10,102.10" fill="#fff" stroke="#2a2a2a" stroke-width="1.15" stroke-linejoin="miter"/>
<circle cx="409.10" cy="96.90" r="0.6" fill="#555"/>
<circle cx="416.40" cy="96.80" r="3.1" fill="#fff" stroke="#555" stroke-width="1.0"/>
<circle cx="416.40" cy="96.80" r="0.5" fill="#999"/>
<polygon points="412.60,99.60 420.20,99.60 416.40,92.00" fill="#fff" stroke="#2a2a2a" stroke-width="1.15"/>
<circle cx="416.40" cy="97.20" r="0.6" fill="#555"/>
<polygon points="412.60,94.70 420.20,94.70 416.40,102.50" fill="#fff" stroke="#2a2a2a" stroke-width="1.15" stroke-linejoin="miter"/>
<circle cx="416.40" cy="97.30" r="0.6" fill="#555"/>
<circle cx="423.80" cy="96.80" r="3.1" fill="#fff" stroke="#555" stroke-width="1.0"/>
<circle cx="423.80" cy="96.80" r="0.5" fill="#999"/>
<polygon points="420.00,100.40 427.60,100.40 423.80,92.80" fill="#fff" stroke="#2a2a2a" stroke-width="1.15"/>
<circle cx="423.80" cy="98.00" r="0.6" fill="#555"/>
<polygon points="420.00,96.20 427.60,96.20 423.80,104.00" fill="#fff" stroke="#2a2a2a" stroke-width="1.15" stroke-linejoin="miter"/>
<circle cx="423.80" cy="98.80" r="0.6" fill="#555"/>
<circle cx="431.20" cy="96.80" r="3.1" fill="#fff" stroke="#555" stroke-width="1.0"/>
<circle cx="431.20" cy="96.80" r="0.5" fill="#999"/>
<polygon points="427.40,99.80 435.00,99.80 431.20,92.20" fill="#fff" stroke="#2a2a2a" stroke-width="1.15"/>
<circle cx="431.20" cy="97.40" r="0.6" fill="#555"/>
<polygon points="427.40,95.70 435.00,95.70 431.20,103.50" fill="#fff" stroke="#2a2a2a" stroke-width="1.15" stroke-linejoin="miter"/>
<circle cx="431.20" cy="98.30" r="0.6" fill="#555"/>
<circle cx="438.60" cy="96.80" r="3.1" fill="#fff" stroke="#555" stroke-width="1.0"/>
<circle cx="438.60" cy="96.80" r="0.5" fill="#999"/>
<polygon points="434.80,98.20 442.40,98.20 438.60,90.60" fill="#fff" stroke="#2a2a2a" stroke-width="1.15"/>
<circle cx="438.60" cy="95.80" r="0.6" fill="#555"/>
<polygon points="434.80,95.70 442.40,95.70 438.60,103.50" fill="#fff" stroke="#2a2a2a" stroke-width="1.15" stroke-linejoin="miter"/>
<circle cx="438.60" cy="98.30" r="0.6" fill="#555"/>
<polyline points="457.3,167.4 465.0,169.1 468.8,177.6 476.2,178.0 483.7,178.4 491.1,178.8 498.6,179.2 506.0,179.5 513.4,179.5 520.9,179.5 528.3,179.6 535.8,179.7 543.2,179.8 550.6,179.9 558.1,180.0 565.5,180.1 573.0,180.2 580.4,180.3 587.8,180.4 595.3,180.5 602.7,180.6 610.2,180.7 617.6,180.7 625.0,180.7 632.5,180.7" fill="none" stroke="#2a2a2a" stroke-width="1.3"/>
<polygon points="449.70,167.40 457.30,167.40 453.50,175.30" fill="#fff" stroke="#2a2a2a" stroke-width="1.35" stroke-linejoin="miter"/>
<circle cx="453.50" cy="170.00" r="0.6" fill="#555"/>
<polygon points="457.40,169.10 465.00,169.10 461.20,177.00" fill="#fff" stroke="#2a2a2a" stroke-width="1.35" stroke-linejoin="miter"/>
<circle cx="461.20" cy="171.70" r="0.6" fill="#555"/>
<polygon points="465.00,177.60 472.60,177.60 468.80,185.50" fill="#fff" stroke="#2a2a2a" stroke-width="1.35" stroke-linejoin="miter"/>
<circle cx="468.80" cy="180.20" r="0.6" fill="#555"/>
<polygon points="472.44,178.00 480.04,178.00 476.24,185.90" fill="#fff" stroke="#2a2a2a" stroke-width="1.35" stroke-linejoin="miter"/>
<circle cx="476.24" cy="180.60" r="0.6" fill="#555"/>
<polygon points="479.88,178.41 487.48,178.41 483.68,186.31" fill="#fff" stroke="#2a2a2a" stroke-width="1.35" stroke-linejoin="miter"/>
<circle cx="483.68" cy="181.01" r="0.6" fill="#555"/>
<polygon points="487.32,178.81 494.92,178.81 491.12,186.71" fill="#fff" stroke="#2a2a2a" stroke-width="1.35" stroke-linejoin="miter"/>
<circle cx="491.12" cy="181.41" r="0.6" fill="#555"/>
<polygon points="494.76,179.22 502.36,179.22 498.56,187.12" fill="#fff" stroke="#2a2a2a" stroke-width="1.35" stroke-linejoin="miter"/>
<circle cx="498.56" cy="181.82" r="0.6" fill="#555"/>
<polygon points="502.20,179.50 509.80,179.50 506.00,187.40" fill="#fff" stroke="#2a2a2a" stroke-width="1.35" stroke-linejoin="miter"/>
<circle cx="506.00" cy="182.10" r="0.6" fill="#555"/>
<polygon points="509.64,179.50 517.24,179.50 513.44,187.40" fill="#fff" stroke="#2a2a2a" stroke-width="1.35" stroke-linejoin="miter"/>
<circle cx="513.44" cy="182.10" r="0.6" fill="#555"/>
<polygon points="517.08,179.51 524.68,179.51 520.88,187.41" fill="#fff" stroke="#2a2a2a" stroke-width="1.35" stroke-linejoin="miter"/>
<circle cx="520.88" cy="182.11" r="0.6" fill="#555"/>
<polygon points="524.52,179.61 532.12,179.61 528.32,187.51" fill="#fff" stroke="#2a2a2a" stroke-width="1.35" stroke-linejoin="miter"/>
<circle cx="528.32" cy="182.21" r="0.6" fill="#555"/>
<polygon points="531.96,179.71 539.56,179.71 535.76,187.61" fill="#fff" stroke="#2a2a2a" stroke-width="1.35" stroke-linejoin="miter"/>
<circle cx="535.76" cy="182.31" r="0.6" fill="#555"/>
<polygon points="539.40,179.81 547.00,179.81 543.20,187.71" fill="#fff" stroke="#2a2a2a" stroke-width="1.35" stroke-linejoin="miter"/>
<circle cx="543.20" cy="182.41" r="0.6" fill="#555"/>
<polygon points="546.84,179.91 554.44,179.91 550.64,187.81" fill="#fff" stroke="#2a2a2a" stroke-width="1.35" stroke-linejoin="miter"/>
<circle cx="550.64" cy="182.51" r="0.6" fill="#555"/>
<polygon points="554.28,180.01 561.88,180.01 558.08,187.91" fill="#fff" stroke="#2a2a2a" stroke-width="1.35" stroke-linejoin="miter"/>
<circle cx="558.08" cy="182.61" r="0.6" fill="#555"/>
<polygon points="561.72,180.11 569.32,180.11 565.52,188.01" fill="#fff" stroke="#2a2a2a" stroke-width="1.35" stroke-linejoin="miter"/>
<circle cx="565.52" cy="182.71" r="0.6" fill="#555"/>
<polygon points="569.16,180.21 576.76,180.21 572.96,188.11" fill="#fff" stroke="#2a2a2a" stroke-width="1.35" stroke-linejoin="miter"/>
<circle cx="572.96" cy="182.81" r="0.6" fill="#555"/>
<polygon points="576.60,180.31 584.20,180.31 580.40,188.21" fill="#fff" stroke="#2a2a2a" stroke-width="1.35" stroke-linejoin="miter"/>
<circle cx="580.40" cy="182.91" r="0.6" fill="#555"/>
<polygon points="584.04,180.40 591.64,180.40 587.84,188.30" fill="#fff" stroke="#2a2a2a" stroke-width="1.35" stroke-linejoin="miter"/>
<circle cx="587.84" cy="183.00" r="0.6" fill="#555"/>
<polygon points="591.48,180.50 599.08,180.50 595.28,188.40" fill="#fff" stroke="#2a2a2a" stroke-width="1.35" stroke-linejoin="miter"/>
<circle cx="595.28" cy="183.10" r="0.6" fill="#555"/>
<polygon points="598.92,180.60 606.52,180.60 602.72,188.50" fill="#fff" stroke="#2a2a2a" stroke-width="1.35" stroke-linejoin="miter"/>
<circle cx="602.72" cy="183.20" r="0.6" fill="#555"/>
<polygon points="606.36,180.70 613.96,180.70 610.16,188.60" fill="#fff" stroke="#2a2a2a" stroke-width="1.35" stroke-linejoin="miter"/>
<circle cx="610.16" cy="183.30" r="0.6" fill="#555"/>
<polygon points="613.80,180.70 621.40,180.70 617.60,188.60" fill="#fff" stroke="#2a2a2a" stroke-width="1.35" stroke-linejoin="miter"/>
<circle cx="617.60" cy="183.30" r="0.6" fill="#555"/>
<polygon points="621.24,180.70 628.84,180.70 625.04,188.60" fill="#fff" stroke="#2a2a2a" stroke-width="1.35" stroke-linejoin="miter"/>
<circle cx="625.04" cy="183.30" r="0.6" fill="#555"/>
<polygon points="628.68,180.70 636.28,180.70 632.48,188.60" fill="#fff" stroke="#2a2a2a" stroke-width="1.35" stroke-linejoin="miter"/>
<circle cx="632.48" cy="183.30" r="0.6" fill="#555"/>
<polyline points="453.1,209.7 460.5,210.3 468.0,209.4 475.4,210.1 482.9,209.7 490.3,210.4 497.7,209.5 505.2,210.0 512.6,209.7 520.1,210.3 527.5,209.4 534.9,210.1 542.4,209.7 549.8,210.4 557.3,209.5 564.7,210.0 572.1,212.5 579.6,210.3 587.0,209.4 594.5,210.1 601.9,209.7 609.3,210.4 616.8,209.5 624.2,210.0 631.7,209.7 639.1,210.3" fill="none" stroke="#777" stroke-width="1.0"/>
<circle cx="453.10" cy="209.70" r="3.2" fill="#fff" stroke="#6a6a6a" stroke-width="1.1"/>
<circle cx="453.10" cy="209.70" r="0.5" fill="#999"/>
<circle cx="460.54" cy="210.30" r="3.2" fill="#fff" stroke="#6a6a6a" stroke-width="1.1"/>
<circle cx="460.54" cy="210.30" r="0.5" fill="#999"/>
<circle cx="467.98" cy="209.40" r="3.2" fill="#fff" stroke="#6a6a6a" stroke-width="1.1"/>
<circle cx="467.98" cy="209.40" r="0.5" fill="#999"/>
<circle cx="475.42" cy="210.10" r="3.2" fill="#fff" stroke="#6a6a6a" stroke-width="1.1"/>
<circle cx="475.42" cy="210.10" r="0.5" fill="#999"/>
<circle cx="482.86" cy="209.70" r="3.2" fill="#fff" stroke="#6a6a6a" stroke-width="1.1"/>
<circle cx="482.86" cy="209.70" r="0.5" fill="#999"/>
<circle cx="490.30" cy="210.40" r="3.2" fill="#fff" stroke="#6a6a6a" stroke-width="1.1"/>
<circle cx="490.30" cy="210.40" r="0.5" fill="#999"/>
<circle cx="497.74" cy="209.50" r="3.2" fill="#fff" stroke="#6a6a6a" stroke-width="1.1"/>
<circle cx="497.74" cy="209.50" r="0.5" fill="#999"/>
<circle cx="505.18" cy="210.00" r="3.2" fill="#fff" stroke="#6a6a6a" stroke-width="1.1"/>
<circle cx="505.18" cy="210.00" r="0.5" fill="#999"/>
<circle cx="512.62" cy="209.70" r="3.2" fill="#fff" stroke="#6a6a6a" stroke-width="1.1"/>
<circle cx="512.62" cy="209.70" r="0.5" fill="#999"/>
<circle cx="520.06" cy="210.30" r="3.2" fill="#fff" stroke="#6a6a6a" stroke-width="1.1"/>
<circle cx="520.06" cy="210.30" r="0.5" fill="#999"/>
<circle cx="527.50" cy="209.40" r="3.2" fill="#fff" stroke="#6a6a6a" stroke-width="1.1"/>
<circle cx="527.50" cy="209.40" r="0.5" fill="#999"/>
<circle cx="534.94" cy="210.10" r="3.2" fill="#fff" stroke="#6a6a6a" stroke-width="1.1"/>
<circle cx="534.94" cy="210.10" r="0.5" fill="#999"/>
<circle cx="542.38" cy="209.70" r="3.2" fill="#fff" stroke="#6a6a6a" stroke-width="1.1"/>
<circle cx="542.38" cy="209.70" r="0.5" fill="#999"/>
<circle cx="549.82" cy="210.40" r="3.2" fill="#fff" stroke="#6a6a6a" stroke-width="1.1"/>
<circle cx="549.82" cy="210.40" r="0.5" fill="#999"/>
<circle cx="557.26" cy="209.50" r="3.2" fill="#fff" stroke="#6a6a6a" stroke-width="1.1"/>
<circle cx="557.26" cy="209.50" r="0.5" fill="#999"/>
<circle cx="564.70" cy="210.00" r="3.2" fill="#fff" stroke="#6a6a6a" stroke-width="1.1"/>
<circle cx="564.70" cy="210.00" r="0.5" fill="#999"/>
<circle cx="572.14" cy="212.50" r="3.2" fill="#fff" stroke="#6a6a6a" stroke-width="1.1"/>
<circle cx="572.14" cy="212.50" r="0.5" fill="#999"/>
<circle cx="579.58" cy="210.30" r="3.2" fill="#fff" stroke="#6a6a6a" stroke-width="1.1"/>
<circle cx="579.58" cy="210.30" r="0.5" fill="#999"/>
<circle cx="587.02" cy="209.40" r="3.2" fill="#fff" stroke="#6a6a6a" stroke-width="1.1"/>
<circle cx="587.02" cy="209.40" r="0.5" fill="#999"/>
<circle cx="594.46" cy="210.10" r="3.2" fill="#fff" stroke="#6a6a6a" stroke-width="1.1"/>
<circle cx="594.46" cy="210.10" r="0.5" fill="#999"/>
<circle cx="601.90" cy="209.70" r="3.2" fill="#fff" stroke="#6a6a6a" stroke-width="1.1"/>
<circle cx="601.90" cy="209.70" r="0.5" fill="#999"/>
<circle cx="609.34" cy="210.40" r="3.2" fill="#fff" stroke="#6a6a6a" stroke-width="1.1"/>
<circle cx="609.34" cy="210.40" r="0.5" fill="#999"/>
<circle cx="616.78" cy="209.50" r="3.2" fill="#fff" stroke="#6a6a6a" stroke-width="1.1"/>
<circle cx="616.78" cy="209.50" r="0.5" fill="#999"/>
<circle cx="624.22" cy="210.00" r="3.2" fill="#fff" stroke="#6a6a6a" stroke-width="1.1"/>
<circle cx="624.22" cy="210.00" r="0.5" fill="#999"/>
<circle cx="631.66" cy="209.70" r="3.2" fill="#fff" stroke="#6a6a6a" stroke-width="1.1"/>
<circle cx="631.66" cy="209.70" r="0.5" fill="#999"/>
<circle cx="639.10" cy="210.30" r="3.2" fill="#fff" stroke="#6a6a6a" stroke-width="1.1"/>
<circle cx="639.10" cy="210.30" r="0.5" fill="#999"/>
<line x1="449.50" y1="240.20" x2="639.00" y2="240.20" stroke="#2a2a2a" stroke-width="1.5" />
<polygon points="449.30,240.20 456.90,240.20 453.10,233.40" fill="#fff" stroke="#2a2a2a" stroke-width="1.35"/>
<circle cx="453.10" cy="237.80" r="0.6" fill="#555"/>
<polygon points="456.74,240.20 464.34,240.20 460.54,233.40" fill="#fff" stroke="#2a2a2a" stroke-width="1.35"/>
<circle cx="460.54" cy="237.80" r="0.6" fill="#555"/>
<polygon points="464.18,240.20 471.78,240.20 467.98,233.40" fill="#fff" stroke="#2a2a2a" stroke-width="1.35"/>
<circle cx="467.98" cy="237.80" r="0.6" fill="#555"/>
<polygon points="471.62,240.20 479.22,240.20 475.42,233.40" fill="#fff" stroke="#2a2a2a" stroke-width="1.35"/>
<circle cx="475.42" cy="237.80" r="0.6" fill="#555"/>
<polygon points="479.06,240.20 486.66,240.20 482.86,233.40" fill="#fff" stroke="#2a2a2a" stroke-width="1.35"/>
<circle cx="482.86" cy="237.80" r="0.6" fill="#555"/>
<polygon points="486.50,240.20 494.10,240.20 490.30,233.40" fill="#fff" stroke="#2a2a2a" stroke-width="1.35"/>
<circle cx="490.30" cy="237.80" r="0.6" fill="#555"/>
<polygon points="493.94,240.20 501.54,240.20 497.74,233.40" fill="#fff" stroke="#2a2a2a" stroke-width="1.35"/>
<circle cx="497.74" cy="237.80" r="0.6" fill="#555"/>
<polygon points="501.38,240.20 508.98,240.20 505.18,233.40" fill="#fff" stroke="#2a2a2a" stroke-width="1.35"/>
<circle cx="505.18" cy="237.80" r="0.6" fill="#555"/>
<polygon points="508.82,240.20 516.42,240.20 512.62,233.40" fill="#fff" stroke="#2a2a2a" stroke-width="1.35"/>
<circle cx="512.62" cy="237.80" r="0.6" fill="#555"/>
<polygon points="516.26,240.20 523.86,240.20 520.06,233.40" fill="#fff" stroke="#2a2a2a" stroke-width="1.35"/>
<circle cx="520.06" cy="237.80" r="0.6" fill="#555"/>
<polygon points="523.70,240.20 531.30,240.20 527.50,233.40" fill="#fff" stroke="#2a2a2a" stroke-width="1.35"/>
<circle cx="527.50" cy="237.80" r="0.6" fill="#555"/>
<polygon points="531.14,240.20 538.74,240.20 534.94,233.40" fill="#fff" stroke="#2a2a2a" stroke-width="1.35"/>
<circle cx="534.94" cy="237.80" r="0.6" fill="#555"/>
<polygon points="538.58,240.20 546.18,240.20 542.38,233.40" fill="#fff" stroke="#2a2a2a" stroke-width="1.35"/>
<circle cx="542.38" cy="237.80" r="0.6" fill="#555"/>
<polygon points="546.02,240.20 553.62,240.20 549.82,233.40" fill="#fff" stroke="#2a2a2a" stroke-width="1.35"/>
<circle cx="549.82" cy="237.80" r="0.6" fill="#555"/>
<polygon points="553.46,240.20 561.06,240.20 557.26,233.40" fill="#fff" stroke="#2a2a2a" stroke-width="1.35"/>
<circle cx="557.26" cy="237.80" r="0.6" fill="#555"/>
<polygon points="560.90,240.20 568.50,240.20 564.70,233.40" fill="#fff" stroke="#2a2a2a" stroke-width="1.35"/>
<circle cx="564.70" cy="237.80" r="0.6" fill="#555"/>
<polygon points="568.34,240.20 575.94,240.20 572.14,233.40" fill="#fff" stroke="#2a2a2a" stroke-width="1.35"/>
<circle cx="572.14" cy="237.80" r="0.6" fill="#555"/>
<polygon points="575.78,240.20 583.38,240.20 579.58,233.40" fill="#fff" stroke="#2a2a2a" stroke-width="1.35"/>
<circle cx="579.58" cy="237.80" r="0.6" fill="#555"/>
<polygon points="583.22,240.20 590.82,240.20 587.02,233.40" fill="#fff" stroke="#2a2a2a" stroke-width="1.35"/>
<circle cx="587.02" cy="237.80" r="0.6" fill="#555"/>
<polygon points="590.66,240.20 598.26,240.20 594.46,233.40" fill="#fff" stroke="#2a2a2a" stroke-width="1.35"/>
<circle cx="594.46" cy="237.80" r="0.6" fill="#555"/>
<polygon points="598.10,240.20 605.70,240.20 601.90,233.40" fill="#fff" stroke="#2a2a2a" stroke-width="1.35"/>
<circle cx="601.90" cy="237.80" r="0.6" fill="#555"/>
<polygon points="605.54,240.20 613.14,240.20 609.34,233.40" fill="#fff" stroke="#2a2a2a" stroke-width="1.35"/>
<circle cx="609.34" cy="237.80" r="0.6" fill="#555"/>
<polygon points="612.98,240.20 620.58,240.20 616.78,233.40" fill="#fff" stroke="#2a2a2a" stroke-width="1.35"/>
<circle cx="616.78" cy="237.80" r="0.6" fill="#555"/>
<polygon points="620.42,240.20 628.02,240.20 624.22,233.40" fill="#fff" stroke="#2a2a2a" stroke-width="1.35"/>
<circle cx="624.22" cy="237.80" r="0.6" fill="#555"/>
<polygon points="627.86,240.20 635.46,240.20 631.66,233.40" fill="#fff" stroke="#2a2a2a" stroke-width="1.35"/>
<circle cx="631.66" cy="237.80" r="0.6" fill="#555"/>
<polygon points="635.30,240.20 642.90,240.20 639.10,233.40" fill="#fff" stroke="#2a2a2a" stroke-width="1.35"/>
<circle cx="639.10" cy="237.80" r="0.6" fill="#555"/>
<rect x="640.1999999999999" y="150" width="10" height="110" fill="#fff"/>
<line x1="639.3" y1="30.6" x2="639.3" y2="268.6" stroke="#333" stroke-width="1.7"/>
<rect x="489.4" y="35.2" width="144.20000000000005" height="113.60000000000001" fill="#fff" stroke="#555" stroke-width="1.1"/>
<line x1="489.40" y1="148.22" x2="491.20" y2="148.22" stroke="#555" stroke-width="0.8" />
<line x1="489.40" y1="142.55" x2="492.60" y2="142.55" stroke="#555" stroke-width="0.8" />
<line x1="489.40" y1="136.88" x2="491.20" y2="136.88" stroke="#555" stroke-width="0.8" />
<line x1="489.40" y1="129.37" x2="491.20" y2="129.37" stroke="#555" stroke-width="0.8" />
<line x1="489.40" y1="123.70" x2="492.60" y2="123.70" stroke="#555" stroke-width="0.8" />
<line x1="489.40" y1="118.03" x2="491.20" y2="118.03" stroke="#555" stroke-width="0.8" />
<line x1="489.40" y1="110.52" x2="491.20" y2="110.52" stroke="#555" stroke-width="0.8" />
<line x1="489.40" y1="104.85" x2="492.60" y2="104.85" stroke="#555" stroke-width="0.8" />
<line x1="489.40" y1="99.18" x2="491.20" y2="99.18" stroke="#555" stroke-width="0.8" />
<line x1="489.40" y1="91.67" x2="491.20" y2="91.67" stroke="#555" stroke-width="0.8" />
<line x1="489.40" y1="86.00" x2="492.60" y2="86.00" stroke="#555" stroke-width="0.8" />
<line x1="489.40" y1="80.33" x2="491.20" y2="80.33" stroke="#555" stroke-width="0.8" />
<line x1="489.40" y1="72.82" x2="491.20" y2="72.82" stroke="#555" stroke-width="0.8" />
<line x1="489.40" y1="67.15" x2="492.60" y2="67.15" stroke="#555" stroke-width="0.8" />
<line x1="489.40" y1="61.48" x2="491.20" y2="61.48" stroke="#555" stroke-width="0.8" />
<line x1="489.40" y1="53.97" x2="491.20" y2="53.97" stroke="#555" stroke-width="0.8" />
<line x1="489.40" y1="48.30" x2="492.60" y2="48.30" stroke="#555" stroke-width="0.8" />
<line x1="489.40" y1="42.63" x2="491.20" y2="42.63" stroke="#555" stroke-width="0.8" />
<line x1="498.10" y1="148.80" x2="498.10" y2="146.00" stroke="#555" stroke-width="0.8" />
<line x1="525.70" y1="148.80" x2="525.70" y2="147.00" stroke="#555" stroke-width="0.8" />
<line x1="553.30" y1="148.80" x2="553.30" y2="146.00" stroke="#555" stroke-width="0.8" />
<line x1="580.90" y1="148.80" x2="580.90" y2="147.00" stroke="#555" stroke-width="0.8" />
<line x1="608.50" y1="148.80" x2="608.50" y2="146.00" stroke="#555" stroke-width="0.8" />
<text x="463.20" y="60.60" font-size="15" font-weight="bold" fill="#222" font-family='"Liberation Sans", sans-serif' textLength="14.12" lengthAdjust="spacingAndGlyphs" >10</text>
<text x="479.89" y="52.30" font-size="9" font-weight="bold" fill="#222" font-family='"Liberation Sans", sans-serif' textLength="7.19" lengthAdjust="spacingAndGlyphs" >11</text>
<text x="467.86" y="97.00" font-size="15" font-weight="bold" fill="#222" font-family='"Liberation Sans", sans-serif' textLength="14.78" lengthAdjust="spacingAndGlyphs" >10</text>
<text x="483.63" y="89.50" font-size="9" font-weight="bold" fill="#222" font-family='"Liberation Sans", sans-serif' textLength="4.36" lengthAdjust="spacingAndGlyphs" >9</text>
<text x="468.08" y="134.40" font-size="15" font-weight="bold" fill="#222" font-family='"Liberation Sans", sans-serif' textLength="14.56" lengthAdjust="spacingAndGlyphs" >10</text>
<text x="483.91" y="124.90" font-size="9" font-weight="bold" fill="#222" font-family='"Liberation Sans", sans-serif' textLength="3.79" lengthAdjust="spacingAndGlyphs" >7</text>
<text transform="translate(465.30,147.91) rotate(-90)" x="0" y="0" font-size="12" font-weight="bold" fill="#222" font-family='"Liberation Sans", sans-serif' textLength="64.33" lengthAdjust="spacingAndGlyphs">Resistance</text>
<text transform="translate(465.30,77.64) rotate(-90)" x="0" y="0" font-size="12" font-weight="bold" fill="#222" font-family='"Liberation Sans", sans-serif' textLength="15.77" lengthAdjust="spacingAndGlyphs">(Ω)</text>
<text x="493.73" y="160.60" font-size="10.5" font-weight="bold" fill="#222" font-family='"Liberation Sans", sans-serif' textLength="6.55" lengthAdjust="spacingAndGlyphs" >0</text>
<text x="549.60" y="160.60" font-size="10.5" font-weight="bold" fill="#222" font-family='"Liberation Sans", sans-serif' textLength="6.47" lengthAdjust="spacingAndGlyphs" >2</text>
<text x="604.73" y="160.60" font-size="10.5" font-weight="bold" fill="#222" font-family='"Liberation Sans", sans-serif' textLength="6.23" lengthAdjust="spacingAndGlyphs" >4</text>
<text x="527.85" y="172.10" font-size="14.6" font-weight="bold" fill="#222" font-family='"Liberation Sans", sans-serif' textLength="68.53" lengthAdjust="spacingAndGlyphs" >Time (min)</text>
<circle cx="498.6" cy="55.3" r="2.1" fill="#6a6a6a"/>
<path d="M498,122.8 L500.5,122.6 L502.2,120 L503.6,119.6 L505,122.4 L633,122.1" fill="none" stroke="#707070" stroke-width="3.4"/>
<circle cx="498.4" cy="122.8" r="1.9" fill="#707070"/>
<text x="6.21" y="327.00" font-size="21" font-weight="normal" fill="#111" font-family='"Liberation Sans", sans-serif' textLength="11.60" lengthAdjust="spacingAndGlyphs" >c</text>
<line x1="61.20" y1="536.25" x2="66.20" y2="536.25" stroke="#333" stroke-width="1.0" />
<line x1="61.20" y1="527.75" x2="64.00" y2="527.75" stroke="#333" stroke-width="1.0" />
<line x1="61.20" y1="522.77" x2="64.00" y2="522.77" stroke="#333" stroke-width="1.0" />
<line x1="61.20" y1="519.24" x2="64.00" y2="519.24" stroke="#333" stroke-width="1.0" />
<line x1="61.20" y1="516.50" x2="64.00" y2="516.50" stroke="#333" stroke-width="1.0" />
<line x1="61.20" y1="514.27" x2="64.00" y2="514.27" stroke="#333" stroke-width="1.0" />
<line x1="61.20" y1="512.38" x2="64.00" y2="512.38" stroke="#333" stroke-width="1.0" />
<line x1="61.20" y1="510.74" x2="64.00" y2="510.74" stroke="#333" stroke-width="1.0" />
<line x1="61.20" y1="509.29" x2="64.00" y2="509.29" stroke="#333" stroke-width="1.0" />
<line x1="61.20" y1="508.00" x2="66.20" y2="508.00" stroke="#333" stroke-width="1.0" />
<line x1="61.20" y1="499.50" x2="64.00" y2="499.50" stroke="#333" stroke-width="1.0" />
<line x1="61.20" y1="494.52" x2="64.00" y2="494.52" stroke="#333" stroke-width="1.0" />
<line x1="61.20" y1="490.99" x2="64.00" y2="490.99" stroke="#333" stroke-width="1.0" />
<line x1="61.20" y1="488.25" x2="64.00" y2="488.25" stroke="#333" stroke-width="1.0" />
<line x1="61.20" y1="486.02" x2="64.00" y2="486.02" stroke="#333" stroke-width="1.0" />
<line x1="61.20" y1="484.13" x2="64.00" y2="484.13" stroke="#333" stroke-width="1.0" />
<line x1="61.20" y1="482.49" x2="64.00" y2="482.49" stroke="#333" stroke-width="1.0" />
<line x1="61.20" y1="481.04" x2="64.00" y2="481.04" stroke="#333" stroke-width="1.0" />
<line x1="61.20" y1="479.75" x2="66.20" y2="479.75" stroke="#333" stroke-width="1.0" />
<line x1="61.20" y1="471.25" x2="64.00" y2="471.25" stroke="#333" stroke-width="1.0" />
<line x1="61.20" y1="466.27" x2="64.00" y2="466.27" stroke="#333" stroke-width="1.0" />
<line x1="61.20" y1="462.74" x2="64.00" y2="462.74" stroke="#333" stroke-width="1.0" />
<line x1="61.20" y1="460.00" x2="64.00" y2="460.00" stroke="#333" stroke-width="1.0" />
<line x1="61.20" y1="457.77" x2="64.00" y2="457.77" stroke="#333" stroke-width="1.0" />
<line x1="61.20" y1="455.88" x2="64.00" y2="455.88" stroke="#333" stroke-width="1.0" />
<line x1="61.20" y1="454.24" x2="64.00" y2="454.24" stroke="#333" stroke-width="1.0" />
<line x1="61.20" y1="452.79" x2="64.00" y2="452.79" stroke="#333" stroke-width="1.0" />
<line x1="61.20" y1="451.50" x2="66.20" y2="451.50" stroke="#333" stroke-width="1.0" />
<line x1="61.20" y1="443.00" x2="64.00" y2="443.00" stroke="#333" stroke-width="1.0" />
<line x1="61.20" y1="438.02" x2="64.00" y2="438.02" stroke="#333" stroke-width="1.0" />
<line x1="61.20" y1="434.49" x2="64.00" y2="434.49" stroke="#333" stroke-width="1.0" />
<line x1="61.20" y1="431.75" x2="64.00" y2="431.75" stroke="#333" stroke-width="1.0" />
<line x1="61.20" y1="429.52" x2="64.00" y2="429.52" stroke="#333" stroke-width="1.0" />
<line x1="61.20" y1="427.63" x2="64.00" y2="427.63" stroke="#333" stroke-width="1.0" />
<line x1="61.20" y1="425.99" x2="64.00" y2="425.99" stroke="#333" stroke-width="1.0" />
<line x1="61.20" y1="424.54" x2="64.00" y2="424.54" stroke="#333" stroke-width="1.0" />
<line x1="61.20" y1="423.25" x2="66.20" y2="423.25" stroke="#333" stroke-width="1.0" />
<line x1="61.20" y1="414.75" x2="64.00" y2="414.75" stroke="#333" stroke-width="1.0" />
<line x1="61.20" y1="409.77" x2="64.00" y2="409.77" stroke="#333" stroke-width="1.0" />
<line x1="61.20" y1="406.24" x2="64.00" y2="406.24" stroke="#333" stroke-width="1.0" />
<line x1="61.20" y1="403.50" x2="64.00" y2="403.50" stroke="#333" stroke-width="1.0" />
<line x1="61.20" y1="401.27" x2="64.00" y2="401.27" stroke="#333" stroke-width="1.0" />
<line x1="61.20" y1="399.38" x2="64.00" y2="399.38" stroke="#333" stroke-width="1.0" />
<line x1="61.20" y1="397.74" x2="64.00" y2="397.74" stroke="#333" stroke-width="1.0" />
<line x1="61.20" y1="396.29" x2="64.00" y2="396.29" stroke="#333" stroke-width="1.0" />
<line x1="61.20" y1="395.00" x2="66.20" y2="395.00" stroke="#333" stroke-width="1.0" />
<line x1="61.20" y1="386.50" x2="64.00" y2="386.50" stroke="#333" stroke-width="1.0" />
<line x1="61.20" y1="381.52" x2="64.00" y2="381.52" stroke="#333" stroke-width="1.0" />
<line x1="61.20" y1="377.99" x2="64.00" y2="377.99" stroke="#333" stroke-width="1.0" />
<line x1="61.20" y1="375.25" x2="64.00" y2="375.25" stroke="#333" stroke-width="1.0" />
<line x1="61.20" y1="373.02" x2="64.00" y2="373.02" stroke="#333" stroke-width="1.0" />
<line x1="61.20" y1="371.13" x2="64.00" y2="371.13" stroke="#333" stroke-width="1.0" />
<line x1="61.20" y1="369.49" x2="64.00" y2="369.49" stroke="#333" stroke-width="1.0" />
<line x1="61.20" y1="368.04" x2="64.00" y2="368.04" stroke="#333" stroke-width="1.0" />
<line x1="61.20" y1="366.75" x2="66.20" y2="366.75" stroke="#333" stroke-width="1.0" />
<line x1="61.20" y1="358.25" x2="64.00" y2="358.25" stroke="#333" stroke-width="1.0" />
<line x1="61.20" y1="353.27" x2="64.00" y2="353.27" stroke="#333" stroke-width="1.0" />
<line x1="61.20" y1="349.74" x2="64.00" y2="349.74" stroke="#333" stroke-width="1.0" />
<line x1="61.20" y1="347.00" x2="64.00" y2="347.00" stroke="#333" stroke-width="1.0" />
<line x1="61.20" y1="344.77" x2="64.00" y2="344.77" stroke="#333" stroke-width="1.0" />
<line x1="61.20" y1="342.88" x2="64.00" y2="342.88" stroke="#333" stroke-width="1.0" />
<line x1="61.20" y1="341.24" x2="64.00" y2="341.24" stroke="#333" stroke-width="1.0" />
<line x1="61.20" y1="339.79" x2="64.00" y2="339.79" stroke="#333" stroke-width="1.0" />
<line x1="99.40" y1="536.80" x2="99.40" y2="532.80" stroke="#333" stroke-width="1.0" />
<line x1="138.65" y1="536.80" x2="138.65" y2="534.30" stroke="#333" stroke-width="1.0" />
<line x1="177.90" y1="536.80" x2="177.90" y2="532.80" stroke="#333" stroke-width="1.0" />
<line x1="217.15" y1="536.80" x2="217.15" y2="534.30" stroke="#333" stroke-width="1.0" />
<line x1="256.40" y1="536.80" x2="256.40" y2="532.80" stroke="#333" stroke-width="1.0" />
<line x1="295.65" y1="536.80" x2="295.65" y2="534.30" stroke="#333" stroke-width="1.0" />
<rect x="61.2" y="338.5" width="268.8" height="198.29999999999995" fill="none" stroke="#3a3a3a" stroke-width="1.7"/>
<text x="26.88" y="351.50" font-size="18.8" font-weight="bold" fill="#1a1a1a" font-family='"Liberation Sans", sans-serif' textLength="19.86" lengthAdjust="spacingAndGlyphs" >10</text>
<text x="47.53" y="341.00" font-size="10.8" font-weight="bold" fill="#1a1a1a" font-family='"Liberation Sans", sans-serif' textLength="11.79" lengthAdjust="spacingAndGlyphs" >12</text>
<text x="27.17" y="408.10" font-size="18.8" font-weight="bold" fill="#1a1a1a" font-family='"Liberation Sans", sans-serif' textLength="19.97" lengthAdjust="spacingAndGlyphs" >10</text>
<text x="47.98" y="397.60" font-size="10.8" font-weight="bold" fill="#1a1a1a" font-family='"Liberation Sans", sans-serif' textLength="11.03" lengthAdjust="spacingAndGlyphs" >10</text>
<text x="33.17" y="464.50" font-size="18.8" font-weight="bold" fill="#1a1a1a" font-family='"Liberation Sans", sans-serif' textLength="19.97" lengthAdjust="spacingAndGlyphs" >10</text>
<text x="53.90" y="454.30" font-size="10.8" font-weight="bold" fill="#1a1a1a" font-family='"Liberation Sans", sans-serif' textLength="5.18" lengthAdjust="spacingAndGlyphs" >8</text>
<text x="33.17" y="521.00" font-size="18.8" font-weight="bold" fill="#1a1a1a" font-family='"Liberation Sans", sans-serif' textLength="19.97" lengthAdjust="spacingAndGlyphs" >10</text>
<text x="53.85" y="510.80" font-size="10.8" font-weight="bold" fill="#1a1a1a" font-family='"Liberation Sans", sans-serif' textLength="5.29" lengthAdjust="spacingAndGlyphs" >6</text>
<text transform="translate(19.60,517.15) rotate(-90)" x="0" y="0" font-size="18.5" font-weight="bold" fill="#1a1a1a" font-family='"Liberation Sans", sans-serif' textLength="98.99" lengthAdjust="spacingAndGlyphs">Resistance</text>
<text transform="translate(19.60,412.02) rotate(-90)" x="0" y="0" font-size="18.5" font-weight="bold" fill="#1a1a1a" font-family='"Liberation Sans", sans-serif' textLength="24.25" lengthAdjust="spacingAndGlyphs">(Ω)</text>
<text x="87.04" y="556.40" font-size="17.8" font-weight="bold" fill="#1a1a1a" font-family='"Liberation Sans", sans-serif'>0.0</text>
<text x="165.53" y="556.40" font-size="17.8" font-weight="bold" fill="#1a1a1a" font-family='"Liberation Sans", sans-serif'>0.2</text>
<text x="243.72" y="556.40" font-size="17.8" font-weight="bold" fill="#1a1a1a" font-family='"Liberation Sans", sans-serif'>0.4</text>
<text x="148.98" y="575.00" font-size="18" font-weight="bold" fill="#1a1a1a" font-family='"Liberation Sans", sans-serif' textLength="93.62" lengthAdjust="spacingAndGlyphs" >Voltage (V)</text>
<path d="M139,404.5 C151,388 201,383 215,413" fill="none" stroke="url(#arrU)" stroke-width="8.2"/>
<polygon points="204.5,412.6 226.5,412.8 217.6,422.4" fill="#969696"/>
<path d="M224,468.5 C212,487 160,490 147.5,462.5" fill="none" stroke="url(#arrL)" stroke-width="8.2"/>
<polygon points="136.4,464.2 157.6,462.4 145.6,455.4" fill="#9a9a9a"/>
<polyline points="132.4,493.3 134.3,493.5 136.2,493.6 138.1,493.8 140.0,493.9 141.9,494.1 143.8,494.3 145.7,494.4 147.6,494.6 149.5,494.8 151.4,494.9 153.3,495.1 155.2,495.2 157.1,495.4 159.0,495.6 160.9,495.7 162.8,495.9 164.7,496.0 166.6,496.2 168.5,496.4 170.4,496.5 172.3,496.7 174.2,496.9 176.1,497.0 178.0,497.2 179.9,497.3 181.8,497.5 183.7,497.5 185.6,497.6 187.5,497.7 189.4,497.7 191.3,497.8 193.2,497.9 195.1,497.9 197.0,498.0 198.9,498.1 200.8,498.1 202.7,498.2 204.6,498.3 206.5,498.4 208.4,498.4 210.3,498.5 212.2,498.6 214.1,498.6 216.0,498.7 217.9,498.8 219.8,498.8 221.7,498.9 223.6,499.0 225.5,499.0 227.4,499.1 229.3,499.2 231.2,499.2 233.1,499.3 235.0,499.4 236.9,499.4 238.8,499.5 240.7,499.6 242.6,499.7 244.5,499.7 246.4,499.8 248.3,499.9 250.2,499.9 252.1,500.0 254.0,500.1 255.9,500.1 257.8,500.2 259.7,500.3 261.6,500.3 263.5,500.4 265.4,500.5 267.3,500.5 269.2,500.6 271.1,500.7 273.0,500.7" fill="none" stroke="#333" stroke-width="1.2"/>
<polygon points="130.2,495.3 134.6,495.3 132.4,491.3" fill="#fff" stroke="#666" stroke-width="0.6"/>
<polygon points="132.1,495.5 136.5,495.5 134.3,491.5" fill="#fff" stroke="#666" stroke-width="0.6"/>
<polygon points="134.0,495.6 138.4,495.6 136.2,491.6" fill="#fff" stroke="#666" stroke-width="0.6"/>
<polygon points="135.9,495.8 140.3,495.8 138.1,491.8" fill="#fff" stroke="#666" stroke-width="0.6"/>
<polygon points="137.8,495.9 142.2,495.9 140.0,491.9" fill="#fff" stroke="#666" stroke-width="0.6"/>
<polygon points="139.7,496.1 144.1,496.1 141.9,492.1" fill="#fff" stroke="#666" stroke-width="0.6"/>
<polygon points="141.6,496.3 146.0,496.3 143.8,492.3" fill="#fff" stroke="#666" stroke-width="0.6"/>
<polygon points="143.5,496.4 147.9,496.4 145.7,492.4" fill="#fff" stroke="#666" stroke-width="0.6"/>
<polygon points="145.4,496.6 149.8,496.6 147.6,492.6" fill="#fff" stroke="#666" stroke-width="0.6"/>
<polygon points="147.3,496.8 151.7,496.8 149.5,492.8" fill="#fff" stroke="#666" stroke-width="0.6"/>
<polygon points="149.2,496.9 153.6,496.9 151.4,492.9" fill="#fff" stroke="#666" stroke-width="0.6"/>
<polygon points="151.1,497.1 155.5,497.1 153.3,493.1" fill="#fff" stroke="#666" stroke-width="0.6"/>
<polygon points="153.0,497.2 157.4,497.2 155.2,493.2" fill="#fff" stroke="#666" stroke-width="0.6"/>
<polygon points="154.9,497.4 159.3,497.4 157.1,493.4" fill="#fff" stroke="#666" stroke-width="0.6"/>
<polygon points="156.8,497.6 161.2,497.6 159.0,493.6" fill="#fff" stroke="#666" stroke-width="0.6"/>
<polygon points="158.7,497.7 163.1,497.7 160.9,493.7" fill="#fff" stroke="#666" stroke-width="0.6"/>
<polygon points="160.6,497.9 165.0,497.9 162.8,493.9" fill="#fff" stroke="#666" stroke-width="0.6"/>
<polygon points="162.5,498.0 166.9,498.0 164.7,494.0" fill="#fff" stroke="#666" stroke-width="0.6"/>
<polygon points="164.4,498.2 168.8,498.2 166.6,494.2" fill="#fff" stroke="#666" stroke-width="0.6"/>
<polygon points="166.3,498.4 170.7,498.4 168.5,494.4" fill="#fff" stroke="#666" stroke-width="0.6"/>
<polygon points="168.2,498.5 172.6,498.5 170.4,494.5" fill="#fff" stroke="#666" stroke-width="0.6"/>
<polygon points="170.1,498.7 174.5,498.7 172.3,494.7" fill="#fff" stroke="#666" stroke-width="0.6"/>
<polygon points="172.0,498.9 176.4,498.9 174.2,494.9" fill="#fff" stroke="#666" stroke-width="0.6"/>
<polygon points="173.9,499.0 178.3,499.0 176.1,495.0" fill="#fff" stroke="#666" stroke-width="0.6"/>
<polygon points="175.8,499.2 180.2,499.2 178.0,495.2" fill="#fff" stroke="#666" stroke-width="0.6"/>
<polygon points="177.7,499.3 182.1,499.3 179.9,495.3" fill="#fff" stroke="#666" stroke-width="0.6"/>
<polygon points="179.6,499.5 184.0,499.5 181.8,495.5" fill="#fff" stroke="#666" stroke-width="0.6"/>
<polygon points="181.5,499.5 185.9,499.5 183.7,495.5" fill="#fff" stroke="#666" stroke-width="0.6"/>
<polygon points="183.4,499.6 187.8,499.6 185.6,495.6" fill="#fff" stroke="#666" stroke-width="0.6"/>
<polygon points="185.3,499.7 189.7,499.7 187.5,495.7" fill="#fff" stroke="#666" stroke-width="0.6"/>
<polygon points="187.2,499.7 191.6,499.7 189.4,495.7" fill="#fff" stroke="#666" stroke-width="0.6"/>
<polygon points="189.1,499.8 193.5,499.8 191.3,495.8" fill="#fff" stroke="#666" stroke-width="0.6"/>
<polygon points="191.0,499.9 195.4,499.9 193.2,495.9" fill="#fff" stroke="#666" stroke-width="0.6"/>
<polygon points="192.9,499.9 197.3,499.9 195.1,495.9" fill="#fff" stroke="#666" stroke-width="0.6"/>
<polygon points="194.8,500.0 199.2,500.0 197.0,496.0" fill="#fff" stroke="#666" stroke-width="0.6"/>
<polygon points="196.7,500.1 201.1,500.1 198.9,496.1" fill="#fff" stroke="#666" stroke-width="0.6"/>
<polygon points="198.6,500.1 203.0,500.1 200.8,496.1" fill="#fff" stroke="#666" stroke-width="0.6"/>
<polygon points="200.5,500.2 204.9,500.2 202.7,496.2" fill="#fff" stroke="#666" stroke-width="0.6"/>
<polygon points="202.4,500.3 206.8,500.3 204.6,496.3" fill="#fff" stroke="#666" stroke-width="0.6"/>
<polygon points="204.3,500.4 208.7,500.4 206.5,496.4" fill="#fff" stroke="#666" stroke-width="0.6"/>
<polygon points="206.2,500.4 210.6,500.4 208.4,496.4" fill="#fff" stroke="#666" stroke-width="0.6"/>
<polygon points="208.1,500.5 212.5,500.5 210.3,496.5" fill="#fff" stroke="#666" stroke-width="0.6"/>
<polygon points="210.0,500.6 214.4,500.6 212.2,496.6" fill="#fff" stroke="#666" stroke-width="0.6"/>
<polygon points="211.9,500.6 216.3,500.6 214.1,496.6" fill="#fff" stroke="#666" stroke-width="0.6"/>
<polygon points="213.8,500.7 218.2,500.7 216.0,496.7" fill="#fff" stroke="#666" stroke-width="0.6"/>
<polygon points="215.7,500.8 220.1,500.8 217.9,496.8" fill="#fff" stroke="#666" stroke-width="0.6"/>
<polygon points="217.6,500.8 222.0,500.8 219.8,496.8" fill="#fff" stroke="#666" stroke-width="0.6"/>
<polygon points="219.5,500.9 223.9,500.9 221.7,496.9" fill="#fff" stroke="#666" stroke-width="0.6"/>
<polygon points="221.4,501.0 225.8,501.0 223.6,497.0" fill="#fff" stroke="#666" stroke-width="0.6"/>
<polygon points="223.3,501.0 227.7,501.0 225.5,497.0" fill="#fff" stroke="#666" stroke-width="0.6"/>
<polygon points="225.2,501.1 229.6,501.1 227.4,497.1" fill="#fff" stroke="#666" stroke-width="0.6"/>
<polygon points="227.1,501.2 231.5,501.2 229.3,497.2" fill="#fff" stroke="#666" stroke-width="0.6"/>
<polygon points="229.0,501.2 233.4,501.2 231.2,497.2" fill="#fff" stroke="#666" stroke-width="0.6"/>
<polygon points="230.9,501.3 235.3,501.3 233.1,497.3" fill="#fff" stroke="#666" stroke-width="0.6"/>
<polygon points="232.8,501.4 237.2,501.4 235.0,497.4" fill="#fff" stroke="#666" stroke-width="0.6"/>
<polygon points="234.7,501.4 239.1,501.4 236.9,497.4" fill="#fff" stroke="#666" stroke-width="0.6"/>
<polygon points="236.6,501.5 241.0,501.5 238.8,497.5" fill="#fff" stroke="#666" stroke-width="0.6"/>
<polygon points="238.5,501.6 242.9,501.6 240.7,497.6" fill="#fff" stroke="#666" stroke-width="0.6"/>
<polygon points="240.4,501.7 244.8,501.7 242.6,497.7" fill="#fff" stroke="#666" stroke-width="0.6"/>
<polygon points="242.3,501.7 246.7,501.7 244.5,497.7" fill="#fff" stroke="#666" stroke-width="0.6"/>
<polygon points="244.2,501.8 248.6,501.8 246.4,497.8" fill="#fff" stroke="#666" stroke-width="0.6"/>
<polygon points="246.1,501.9 250.5,501.9 248.3,497.9" fill="#fff" stroke="#666" stroke-width="0.6"/>
<polygon points="248.0,501.9 252.4,501.9 250.2,497.9" fill="#fff" stroke="#666" stroke-width="0.6"/>
<polygon points="249.9,502.0 254.3,502.0 252.1,498.0" fill="#fff" stroke="#666" stroke-width="0.6"/>
<polygon points="251.8,502.1 256.2,502.1 254.0,498.1" fill="#fff" stroke="#666" stroke-width="0.6"/>
<polygon points="253.7,502.1 258.1,502.1 255.9,498.1" fill="#fff" stroke="#666" stroke-width="0.6"/>
<polygon points="255.6,502.2 260.0,502.2 257.8,498.2" fill="#fff" stroke="#666" stroke-width="0.6"/>
<polygon points="257.5,502.3 261.9,502.3 259.7,498.3" fill="#fff" stroke="#666" stroke-width="0.6"/>
<polygon points="259.4,502.3 263.8,502.3 261.6,498.3" fill="#fff" stroke="#666" stroke-width="0.6"/>
<polygon points="261.3,502.4 265.7,502.4 263.5,498.4" fill="#fff" stroke="#666" stroke-width="0.6"/>
<polygon points="263.2,502.5 267.6,502.5 265.4,498.5" fill="#fff" stroke="#666" stroke-width="0.6"/>
<polygon points="265.1,502.5 269.5,502.5 267.3,498.5" fill="#fff" stroke="#666" stroke-width="0.6"/>
<polygon points="267.0,502.6 271.4,502.6 269.2,498.6" fill="#fff" stroke="#666" stroke-width="0.6"/>
<polygon points="268.9,502.7 273.3,502.7 271.1,498.7" fill="#fff" stroke="#666" stroke-width="0.6"/>
<polygon points="270.8,502.7 275.2,502.7 273.0,498.7" fill="#fff" stroke="#666" stroke-width="0.6"/>
<polyline points="132.4,493.3 129.9,464.1 127.4,434.7 126.9,378.7" fill="none" stroke="#333" stroke-width="1.4"/>
<polygon points="127.3,466.5 132.5,466.5 129.9,461.7" fill="#fff" stroke="#555" stroke-width="0.8"/>
<polygon points="124.8,437.1 130.0,437.1 127.4,432.3" fill="#fff" stroke="#555" stroke-width="0.8"/>
<polygon points="129.8,495.7 135.0,495.7 132.4,490.9" fill="#fff" stroke="#555" stroke-width="0.8"/>
<circle cx="117.0" cy="375.7" r="2.2" fill="#fff" stroke="#555" stroke-width="0.7"/>
<circle cx="118.8" cy="376.4" r="2.2" fill="#fff" stroke="#555" stroke-width="0.7"/>
<circle cx="120.6" cy="375.6" r="2.2" fill="#fff" stroke="#555" stroke-width="0.7"/>
<circle cx="122.4" cy="375.2" r="2.2" fill="#fff" stroke="#555" stroke-width="0.7"/>
<circle cx="124.2" cy="375.0" r="2.2" fill="#fff" stroke="#555" stroke-width="0.7"/>
<circle cx="126.0" cy="377.0" r="2.2" fill="#fff" stroke="#555" stroke-width="0.7"/>
<circle cx="127.8" cy="376.7" r="2.2" fill="#fff" stroke="#555" stroke-width="0.7"/>
<circle cx="129.6" cy="375.2" r="2.2" fill="#fff" stroke="#555" stroke-width="0.7"/>
<circle cx="131.4" cy="374.7" r="2.2" fill="#fff" stroke="#555" stroke-width="0.7"/>
<circle cx="133.2" cy="374.8" r="2.2" fill="#fff" stroke="#555" stroke-width="0.7"/>
<circle cx="135.0" cy="376.6" r="2.2" fill="#fff" stroke="#555" stroke-width="0.7"/>
<circle cx="136.8" cy="376.9" r="2.2" fill="#fff" stroke="#555" stroke-width="0.7"/>
<circle cx="138.6" cy="377.0" r="2.2" fill="#fff" stroke="#555" stroke-width="0.7"/>
<circle cx="140.4" cy="375.5" r="2.2" fill="#fff" stroke="#555" stroke-width="0.7"/>
<circle cx="142.2" cy="374.5" r="2.2" fill="#fff" stroke="#555" stroke-width="0.7"/>
<circle cx="144.0" cy="374.9" r="2.2" fill="#fff" stroke="#555" stroke-width="0.7"/>
<circle cx="145.8" cy="375.5" r="2.2" fill="#fff" stroke="#555" stroke-width="0.7"/>
<circle cx="147.6" cy="376.2" r="2.2" fill="#fff" stroke="#555" stroke-width="0.7"/>
<circle cx="149.4" cy="376.9" r="2.2" fill="#fff" stroke="#555" stroke-width="0.7"/>
<circle cx="151.2" cy="375.9" r="2.2" fill="#fff" stroke="#555" stroke-width="0.7"/>
<circle cx="153.0" cy="375.9" r="2.2" fill="#fff" stroke="#555" stroke-width="0.7"/>
<circle cx="154.8" cy="374.6" r="2.2" fill="#fff" stroke="#555" stroke-width="0.7"/>
<circle cx="156.6" cy="374.8" r="2.2" fill="#fff" stroke="#555" stroke-width="0.7"/>
<circle cx="158.4" cy="374.6" r="2.2" fill="#fff" stroke="#555" stroke-width="0.7"/>
<circle cx="160.2" cy="375.8" r="2.2" fill="#fff" stroke="#555" stroke-width="0.7"/>
<circle cx="162.0" cy="375.2" r="2.2" fill="#fff" stroke="#555" stroke-width="0.7"/>
<circle cx="163.8" cy="376.7" r="2.2" fill="#fff" stroke="#555" stroke-width="0.7"/>
<circle cx="165.6" cy="376.3" r="2.2" fill="#fff" stroke="#555" stroke-width="0.7"/>
<circle cx="167.4" cy="375.3" r="2.2" fill="#fff" stroke="#555" stroke-width="0.7"/>
<circle cx="169.2" cy="374.6" r="2.2" fill="#fff" stroke="#555" stroke-width="0.7"/>
<circle cx="171.0" cy="375.0" r="2.2" fill="#fff" stroke="#555" stroke-width="0.7"/>
<circle cx="172.8" cy="374.1" r="2.2" fill="#fff" stroke="#555" stroke-width="0.7"/>
<circle cx="174.6" cy="375.6" r="2.2" fill="#fff" stroke="#555" stroke-width="0.7"/>
<circle cx="176.4" cy="376.2" r="2.2" fill="#fff" stroke="#555" stroke-width="0.7"/>
<circle cx="178.2" cy="375.3" r="2.2" fill="#fff" stroke="#555" stroke-width="0.7"/>
<circle cx="180.0" cy="374.3" r="2.2" fill="#fff" stroke="#555" stroke-width="0.7"/>
<circle cx="181.8" cy="374.1" r="2.2" fill="#fff" stroke="#555" stroke-width="0.7"/>
<circle cx="183.6" cy="374.0" r="2.2" fill="#fff" stroke="#555" stroke-width="0.7"/>
<circle cx="185.4" cy="375.7" r="2.2" fill="#fff" stroke="#555" stroke-width="0.7"/>
<circle cx="187.2" cy="376.2" r="2.2" fill="#fff" stroke="#555" stroke-width="0.7"/>
<circle cx="189.0" cy="374.0" r="2.2" fill="#fff" stroke="#555" stroke-width="0.7"/>
<circle cx="190.8" cy="373.8" r="2.2" fill="#fff" stroke="#555" stroke-width="0.7"/>
<circle cx="192.6" cy="376.3" r="2.2" fill="#fff" stroke="#555" stroke-width="0.7"/>
<circle cx="194.4" cy="374.2" r="2.2" fill="#fff" stroke="#555" stroke-width="0.7"/>
<circle cx="196.2" cy="375.6" r="2.2" fill="#fff" stroke="#555" stroke-width="0.7"/>
<circle cx="198.0" cy="374.7" r="2.2" fill="#fff" stroke="#555" stroke-width="0.7"/>
<circle cx="199.8" cy="373.7" r="2.2" fill="#fff" stroke="#555" stroke-width="0.7"/>
<circle cx="201.6" cy="375.8" r="2.2" fill="#fff" stroke="#555" stroke-width="0.7"/>
<circle cx="203.4" cy="375.4" r="2.2" fill="#fff" stroke="#555" stroke-width="0.7"/>
<circle cx="205.2" cy="375.1" r="2.2" fill="#fff" stroke="#555" stroke-width="0.7"/>
<circle cx="207.0" cy="374.8" r="2.2" fill="#fff" stroke="#555" stroke-width="0.7"/>
<circle cx="208.8" cy="375.0" r="2.2" fill="#fff" stroke="#555" stroke-width="0.7"/>
<circle cx="210.6" cy="374.9" r="2.2" fill="#fff" stroke="#555" stroke-width="0.7"/>
<circle cx="212.4" cy="374.7" r="2.2" fill="#fff" stroke="#555" stroke-width="0.7"/>
<circle cx="214.2" cy="374.9" r="2.2" fill="#fff" stroke="#555" stroke-width="0.7"/>
<circle cx="216.0" cy="375.1" r="2.2" fill="#fff" stroke="#555" stroke-width="0.7"/>
<circle cx="217.8" cy="373.9" r="2.2" fill="#fff" stroke="#555" stroke-width="0.7"/>
<circle cx="219.6" cy="374.5" r="2.2" fill="#fff" stroke="#555" stroke-width="0.7"/>
<circle cx="221.4" cy="375.0" r="2.2" fill="#fff" stroke="#555" stroke-width="0.7"/>
<circle cx="223.2" cy="373.6" r="2.2" fill="#fff" stroke="#555" stroke-width="0.7"/>
<circle cx="225.0" cy="375.5" r="2.2" fill="#fff" stroke="#555" stroke-width="0.7"/>
<circle cx="226.8" cy="375.3" r="2.2" fill="#fff" stroke="#555" stroke-width="0.7"/>
<circle cx="228.6" cy="374.2" r="2.2" fill="#fff" stroke="#555" stroke-width="0.7"/>
<circle cx="230.4" cy="375.1" r="2.2" fill="#fff" stroke="#555" stroke-width="0.7"/>
<circle cx="232.2" cy="374.8" r="2.2" fill="#fff" stroke="#555" stroke-width="0.7"/>
<circle cx="116.0" cy="380.0" r="2.1" fill="#fff" stroke="#666" stroke-width="0.6"/>
<circle cx="119.0" cy="384.0" r="2.1" fill="#fff" stroke="#666" stroke-width="0.6"/>
<circle cx="122.0" cy="381.0" r="2.1" fill="#fff" stroke="#666" stroke-width="0.6"/>
<circle cx="124.0" cy="385.0" r="2.1" fill="#fff" stroke="#666" stroke-width="0.6"/>
<circle cx="127.0" cy="378.0" r="2.1" fill="#fff" stroke="#666" stroke-width="0.6"/>
<circle cx="131.0" cy="376.0" r="2.1" fill="#fff" stroke="#666" stroke-width="0.6"/>
<circle cx="120.0" cy="376.0" r="2.1" fill="#fff" stroke="#666" stroke-width="0.6"/>
<polygon points="115.6,379.0 120.4,379.0 118.0,375.0" fill="#fff" stroke="#555" stroke-width="0.7"/>
<polygon points="119.6,376.0 124.4,376.0 122.0,372.0" fill="#fff" stroke="#555" stroke-width="0.7"/>
<polyline points="232.5,373.9 233.9,401.7 236.5,432 238.5,457.8 240.3,482.2" fill="none" stroke="#222" stroke-width="1.4"/>
<circle cx="232.5" cy="373.9" r="2.1" fill="#fff" stroke="#555" stroke-width="0.8"/>
<circle cx="233.9" cy="401.7" r="2.1" fill="#fff" stroke="#555" stroke-width="0.8"/>
<circle cx="236.5" cy="432" r="2.1" fill="#fff" stroke="#555" stroke-width="0.8"/>
<circle cx="238.5" cy="457.8" r="2.1" fill="#fff" stroke="#555" stroke-width="0.8"/>
<circle cx="240.5" cy="482.4" r="1.9" fill="#fff" stroke="#666" stroke-width="0.6"/>
<circle cx="242.1" cy="482.6" r="1.9" fill="#fff" stroke="#666" stroke-width="0.6"/>
<circle cx="243.7" cy="483.4" r="1.9" fill="#fff" stroke="#666" stroke-width="0.6"/>
<circle cx="245.3" cy="482.9" r="1.9" fill="#fff" stroke="#666" stroke-width="0.6"/>
<circle cx="246.9" cy="484.4" r="1.9" fill="#fff" stroke="#666" stroke-width="0.6"/>
<circle cx="248.5" cy="484.1" r="1.9" fill="#fff" stroke="#666" stroke-width="0.6"/>
<circle cx="250.1" cy="484.6" r="1.9" fill="#fff" stroke="#666" stroke-width="0.6"/>
<circle cx="251.7" cy="485.3" r="1.9" fill="#fff" stroke="#666" stroke-width="0.6"/>
<circle cx="253.3" cy="484.6" r="1.9" fill="#fff" stroke="#666" stroke-width="0.6"/>
<circle cx="254.9" cy="485.8" r="1.9" fill="#fff" stroke="#666" stroke-width="0.6"/>
<circle cx="256.5" cy="486.0" r="1.9" fill="#fff" stroke="#666" stroke-width="0.6"/>
<circle cx="258.1" cy="485.5" r="1.9" fill="#fff" stroke="#666" stroke-width="0.6"/>
<circle cx="259.7" cy="486.5" r="1.9" fill="#fff" stroke="#666" stroke-width="0.6"/>
<circle cx="261.3" cy="486.7" r="1.9" fill="#fff" stroke="#666" stroke-width="0.6"/>
<circle cx="262.9" cy="487.7" r="1.9" fill="#fff" stroke="#666" stroke-width="0.6"/>
<circle cx="264.5" cy="487.1" r="1.9" fill="#fff" stroke="#666" stroke-width="0.6"/>
<circle cx="266.1" cy="487.2" r="1.9" fill="#fff" stroke="#666" stroke-width="0.6"/>
<circle cx="267.7" cy="487.8" r="1.9" fill="#fff" stroke="#666" stroke-width="0.6"/>
<circle cx="269.3" cy="487.9" r="1.9" fill="#fff" stroke="#666" stroke-width="0.6"/>
<circle cx="270.9" cy="488.1" r="1.9" fill="#fff" stroke="#666" stroke-width="0.6"/>
<circle cx="272.5" cy="489.6" r="1.9" fill="#fff" stroke="#666" stroke-width="0.6"/>
<circle cx="274.1" cy="488.7" r="1.9" fill="#fff" stroke="#666" stroke-width="0.6"/>
<circle cx="275.7" cy="489.9" r="1.9" fill="#fff" stroke="#666" stroke-width="0.6"/>
<ellipse cx="233" cy="374.5" rx="6" ry="6" fill="none" stroke="#5a5a5a" stroke-width="1.9" stroke-dasharray="1.5 2.5"/>
<ellipse cx="235" cy="411" rx="5.5" ry="6.5" fill="none" stroke="#5a5a5a" stroke-width="1.9" stroke-dasharray="1.5 2.5"/>
<ellipse cx="238" cy="447" rx="5.5" ry="6.5" fill="none" stroke="#5a5a5a" stroke-width="1.9" stroke-dasharray="1.5 2.5"/>
<ellipse cx="239.3" cy="488.8" rx="5.5" ry="5" fill="none" stroke="#5a5a5a" stroke-width="1.9" stroke-dasharray="1.5 2.5"/>
<text x="244.90" y="380.90" font-size="19" font-weight="bold" fill="#707070" font-family='"Liberation Serif", serif' textLength="5.81" lengthAdjust="spacingAndGlyphs" stroke="#707070" stroke-width="0.6">I</text>
<text x="246.94" y="417.70" font-size="19" font-weight="bold" fill="#707070" font-family='"Liberation Serif", serif' textLength="10.62" lengthAdjust="spacingAndGlyphs" stroke="#707070" stroke-width="0.6">II</text>
<text x="248.53" y="455.00" font-size="19" font-weight="bold" fill="#707070" font-family='"Liberation Serif", serif' textLength="16.45" lengthAdjust="spacingAndGlyphs" stroke="#707070" stroke-width="0.6">III</text>
<text x="250.07" y="486.00" font-size="19" font-weight="bold" fill="#707070" font-family='"Liberation Serif", serif' textLength="17.40" lengthAdjust="spacingAndGlyphs" stroke="#707070" stroke-width="0.6">IV</text>
<rect x="67.5" y="350.5" width="46.5" height="64.2" fill="#cbcbcb"/>
<rect x="68.2" y="348.6" width="45.4" height="63.6" fill="#fff" stroke="#d6d6d6" stroke-width="1"/>
<g stroke="#c4c4c4" stroke-width="0.6" fill="none"><polygon points="77.3,371.6 108.8,351 108.8,389.8 77.3,411.6"/><polygon points="73.1,369.2 101.5,350.4 101.5,386.8 73.1,405.5"/><line x1="73.1" y1="369.2" x2="77.3" y2="371.6"/><line x1="101.5" y1="350.4" x2="108.8" y2="351"/><line x1="101.5" y1="386.8" x2="108.8" y2="389.8"/><line x1="73.1" y1="405.5" x2="77.3" y2="411.6"/></g>
<circle cx="94.8" cy="360.2" r="1.3" fill="url(#sph)"/>
<circle cx="79.9" cy="369.5" r="1.3" fill="url(#sph)"/>
<circle cx="100.6" cy="370.7" r="1.3" fill="url(#sph)"/>
<circle cx="85.2" cy="380.1" r="1.3" fill="url(#sph)"/>
<circle cx="94.5" cy="378.5" r="1.3" fill="url(#sph)"/>
<circle cx="79.9" cy="388.1" r="1.3" fill="url(#sph)"/>
<circle cx="100.1" cy="389.4" r="1.3" fill="url(#sph)"/>
<circle cx="84.9" cy="399.4" r="1.3" fill="url(#sph)"/>
<circle cx="102.3" cy="358.2" r="2.3" fill="url(#sph)"/>
<circle cx="108.9" cy="360.2" r="2.3" fill="url(#sph)"/>
<circle cx="90.7" cy="369.0" r="2.3" fill="url(#sph)"/>
<circle cx="73.8" cy="376.8" r="2.3" fill="url(#sph)"/>
<circle cx="78.2" cy="380.3" r="2.3" fill="url(#sph)"/>
<circle cx="100.6" cy="378.5" r="2.3" fill="url(#sph)"/>
<circle cx="107.8" cy="381.8" r="2.3" fill="url(#sph)"/>
<circle cx="89.0" cy="389.4" r="2.3" fill="url(#sph)"/>
<circle cx="72.4" cy="397.2" r="2.3" fill="url(#sph)"/>
<circle cx="76.6" cy="402.7" r="2.3" fill="url(#sph)"/>
<text x="69.5" y="430.5" font-size="13.6" font-family='"Liberation Sans", sans-serif' fill="#222" textLength="45.3" lengthAdjust="spacingAndGlyphs">VO<tspan font-size="9" dy="2.9">2</tspan><tspan dy="-2.9">(M)</tspan></text>
<rect x="272.6" y="493" width="55.5" height="42.6" fill="#c9c9c9"/>
<rect x="272.6" y="491.2" width="55" height="42" fill="#fff" stroke="#d6d6d6" stroke-width="1"/>
<g stroke="#c4c4c4" stroke-width="0.6" fill="none"><polygon points="277.9,501.2 312.8,504.2 312.4,527 277.9,523.7"/><polygon points="291.6,494.9 323.9,497.6 323.4,518.8 291.6,515.8"/><line x1="277.9" y1="501.2" x2="291.6" y2="494.9"/><line x1="312.8" y1="504.2" x2="323.9" y2="497.6"/><line x1="312.4" y1="527" x2="323.4" y2="518.8"/><line x1="277.9" y1="523.7" x2="291.6" y2="515.8"/></g>
<circle cx="291.8" cy="500.2" r="1.3" fill="url(#sph)"/>
<circle cx="310.1" cy="498.5" r="1.3" fill="url(#sph)"/>
<circle cx="295.1" cy="507.4" r="1.3" fill="url(#sph)"/>
<circle cx="307.7" cy="513.1" r="1.3" fill="url(#sph)"/>
<circle cx="292.1" cy="522.0" r="1.3" fill="url(#sph)"/>
<circle cx="310.1" cy="520.1" r="1.3" fill="url(#sph)"/>
<circle cx="277.9" cy="501.2" r="2.4" fill="url(#sph)"/>
<circle cx="291.6" cy="494.9" r="2.4" fill="url(#sph)"/>
<circle cx="323.9" cy="497.6" r="2.4" fill="url(#sph)"/>
<circle cx="312.8" cy="504.2" r="2.4" fill="url(#sph)"/>
<circle cx="301.4" cy="510.1" r="2.4" fill="url(#sph)"/>
<circle cx="291.6" cy="515.8" r="2.4" fill="url(#sph)"/>
<circle cx="277.9" cy="523.7" r="2.4" fill="url(#sph)"/>
<circle cx="323.4" cy="518.8" r="2.4" fill="url(#sph)"/>
<circle cx="312.4" cy="527.0" r="2.4" fill="url(#sph)"/>
<text x="287.4" y="485.6" font-size="13.6" font-family='"Liberation Sans", sans-serif' fill="#222" textLength="40.6" lengthAdjust="spacingAndGlyphs">VO<tspan font-size="9" dy="2.9">2</tspan><tspan dy="-2.9">(R)</tspan></text>
<line x1="3" y1="340.8" x2="24" y2="340.8" stroke="#ccc" stroke-width="0.8" stroke-dasharray="4 17"/>
<rect x="375.6" y="335.2" width="294.4" height="225.8" fill="url(#dgrad)"/>
<rect x="626.3" y="335.2" width="43.700000000000045" height="47.30000000000001" fill="#fff"/>
<text x="639.78" y="368.50" font-size="22.5" font-weight="normal" fill="#111" font-family='"Liberation Sans", sans-serif' textLength="13.48" lengthAdjust="spacingAndGlyphs" >d</text>
<text x="383.16" y="348.70" font-size="11.6" font-weight="normal" fill="#3a3a3a" font-family='"Liberation Serif", serif' textLength="23.13" lengthAdjust="spacingAndGlyphs" >0mA</text>
<text x="432.66" y="348.70" font-size="11.6" font-weight="normal" fill="#3a3a3a" font-family='"Liberation Serif", serif' textLength="28.33" lengthAdjust="spacingAndGlyphs" >30mA</text>
<text x="470.37" y="348.70" font-size="11.6" font-weight="normal" fill="#3a3a3a" font-family='"Liberation Serif", serif' textLength="28.91" lengthAdjust="spacingAndGlyphs" >40mA</text>
<line x1="393.80" y1="335.2" x2="393.80" y2="561" stroke="#e0343c" stroke-width="1.9" stroke-dasharray="11.3 4.6 1.6 5" stroke-dashoffset="0.6"/>
<line x1="449.00" y1="335.2" x2="449.00" y2="561" stroke="#e0343c" stroke-width="1.9" stroke-dasharray="11.3 4.6 1.6 5" stroke-dashoffset="0.6"/>
<line x1="485.80" y1="335.2" x2="485.80" y2="561" stroke="#e0343c" stroke-width="1.9" stroke-dasharray="11.3 4.6 1.6 5" stroke-dashoffset="0.6"/>
<rect x="496.6" y="370.8" width="90.2" height="182.3" fill="none" stroke="#ec1c24" stroke-width="1.9"/>
<line x1="373.10" y1="556.55" x2="375.60" y2="556.55" stroke="#555" stroke-width="0.9" />
<line x1="373.10" y1="552.67" x2="375.60" y2="552.67" stroke="#555" stroke-width="0.9" />
<line x1="373.10" y1="549.31" x2="375.60" y2="549.31" stroke="#555" stroke-width="0.9" />
<line x1="373.10" y1="546.35" x2="375.60" y2="546.35" stroke="#555" stroke-width="0.9" />
<line x1="370.60" y1="543.70" x2="375.60" y2="543.70" stroke="#555" stroke-width="0.9" />
<line x1="373.10" y1="526.27" x2="375.60" y2="526.27" stroke="#555" stroke-width="0.9" />
<line x1="373.10" y1="516.07" x2="375.60" y2="516.07" stroke="#555" stroke-width="0.9" />
<line x1="373.10" y1="508.84" x2="375.60" y2="508.84" stroke="#555" stroke-width="0.9" />
<line x1="373.10" y1="503.23" x2="375.60" y2="503.23" stroke="#555" stroke-width="0.9" />
<line x1="373.10" y1="498.65" x2="375.60" y2="498.65" stroke="#555" stroke-width="0.9" />
<line x1="373.10" y1="494.77" x2="375.60" y2="494.77" stroke="#555" stroke-width="0.9" />
<line x1="373.10" y1="491.41" x2="375.60" y2="491.41" stroke="#555" stroke-width="0.9" />
<line x1="373.10" y1="488.45" x2="375.60" y2="488.45" stroke="#555" stroke-width="0.9" />
<line x1="370.60" y1="485.80" x2="375.60" y2="485.80" stroke="#555" stroke-width="0.9" />
<line x1="373.10" y1="468.37" x2="375.60" y2="468.37" stroke="#555" stroke-width="0.9" />
<line x1="373.10" y1="458.17" x2="375.60" y2="458.17" stroke="#555" stroke-width="0.9" />
<line x1="373.10" y1="450.94" x2="375.60" y2="450.94" stroke="#555" stroke-width="0.9" />
<line x1="373.10" y1="445.33" x2="375.60" y2="445.33" stroke="#555" stroke-width="0.9" />
<line x1="373.10" y1="440.75" x2="375.60" y2="440.75" stroke="#555" stroke-width="0.9" />
<line x1="373.10" y1="436.87" x2="375.60" y2="436.87" stroke="#555" stroke-width="0.9" />
<line x1="373.10" y1="433.51" x2="375.60" y2="433.51" stroke="#555" stroke-width="0.9" />
<line x1="373.10" y1="430.55" x2="375.60" y2="430.55" stroke="#555" stroke-width="0.9" />
<line x1="370.60" y1="427.90" x2="375.60" y2="427.90" stroke="#555" stroke-width="0.9" />
<line x1="373.10" y1="410.47" x2="375.60" y2="410.47" stroke="#555" stroke-width="0.9" />
<line x1="373.10" y1="400.27" x2="375.60" y2="400.27" stroke="#555" stroke-width="0.9" />
<line x1="373.10" y1="393.04" x2="375.60" y2="393.04" stroke="#555" stroke-width="0.9" />
<line x1="373.10" y1="387.43" x2="375.60" y2="387.43" stroke="#555" stroke-width="0.9" />
<line x1="373.10" y1="382.85" x2="375.60" y2="382.85" stroke="#555" stroke-width="0.9" />
<line x1="373.10" y1="378.97" x2="375.60" y2="378.97" stroke="#555" stroke-width="0.9" />
<line x1="373.10" y1="375.61" x2="375.60" y2="375.61" stroke="#555" stroke-width="0.9" />
<line x1="373.10" y1="372.65" x2="375.60" y2="372.65" stroke="#555" stroke-width="0.9" />
<line x1="370.60" y1="370.00" x2="375.60" y2="370.00" stroke="#555" stroke-width="0.9" />
<line x1="373.10" y1="352.57" x2="375.60" y2="352.57" stroke="#555" stroke-width="0.9" />
<line x1="373.10" y1="342.37" x2="375.60" y2="342.37" stroke="#555" stroke-width="0.9" />
<line x1="375.60" y1="561.00" x2="375.60" y2="564.50" stroke="#555" stroke-width="0.9" />
<line x1="394.00" y1="561.00" x2="394.00" y2="563.00" stroke="#555" stroke-width="0.9" />
<line x1="412.40" y1="561.00" x2="412.40" y2="564.50" stroke="#555" stroke-width="0.9" />
<line x1="430.80" y1="561.00" x2="430.80" y2="563.00" stroke="#555" stroke-width="0.9" />
<line x1="449.20" y1="561.00" x2="449.20" y2="564.50" stroke="#555" stroke-width="0.9" />
<line x1="467.60" y1="561.00" x2="467.60" y2="563.00" stroke="#555" stroke-width="0.9" />
<line x1="486.00" y1="561.00" x2="486.00" y2="564.50" stroke="#555" stroke-width="0.9" />
<line x1="504.40" y1="561.00" x2="504.40" y2="563.00" stroke="#555" stroke-width="0.9" />
<line x1="522.80" y1="561.00" x2="522.80" y2="564.50" stroke="#555" stroke-width="0.9" />
<line x1="541.20" y1="561.00" x2="541.20" y2="563.00" stroke="#555" stroke-width="0.9" />
<line x1="559.60" y1="561.00" x2="559.60" y2="564.50" stroke="#555" stroke-width="0.9" />
<line x1="578.00" y1="561.00" x2="578.00" y2="563.00" stroke="#555" stroke-width="0.9" />
<line x1="596.40" y1="561.00" x2="596.40" y2="564.50" stroke="#555" stroke-width="0.9" />
<line x1="614.80" y1="561.00" x2="614.80" y2="563.00" stroke="#555" stroke-width="0.9" />
<line x1="633.20" y1="561.00" x2="633.20" y2="564.50" stroke="#555" stroke-width="0.9" />
<line x1="651.60" y1="561.00" x2="651.60" y2="563.00" stroke="#555" stroke-width="0.9" />
<line x1="670.00" y1="561.00" x2="670.00" y2="564.50" stroke="#555" stroke-width="0.9" />
<rect x="375.6" y="335.2" width="294.4" height="225.8" fill="none" stroke="#6a6a6a" stroke-width="1.4"/>
<text x="350.70" y="373.30" font-size="10" font-weight="normal" fill="#555" font-family='"Liberation Sans", sans-serif' textLength="11.71" lengthAdjust="spacingAndGlyphs" >10</text>
<text x="362.64" y="370.30" font-size="7" font-weight="normal" fill="#555" font-family='"Liberation Sans", sans-serif' textLength="3.98" lengthAdjust="spacingAndGlyphs" >6</text>
<text x="350.70" y="431.20" font-size="10" font-weight="normal" fill="#555" font-family='"Liberation Sans", sans-serif' textLength="11.71" lengthAdjust="spacingAndGlyphs" >10</text>
<text x="362.72" y="428.20" font-size="7" font-weight="normal" fill="#555" font-family='"Liberation Sans", sans-serif' textLength="3.87" lengthAdjust="spacingAndGlyphs" >5</text>
<text x="350.70" y="489.10" font-size="10" font-weight="normal" fill="#555" font-family='"Liberation Sans", sans-serif' textLength="11.71" lengthAdjust="spacingAndGlyphs" >10</text>
<text x="362.85" y="486.10" font-size="7" font-weight="normal" fill="#555" font-family='"Liberation Sans", sans-serif' textLength="3.64" lengthAdjust="spacingAndGlyphs" >4</text>
<text x="350.70" y="547.00" font-size="10" font-weight="normal" fill="#555" font-family='"Liberation Sans", sans-serif' textLength="11.71" lengthAdjust="spacingAndGlyphs" >10</text>
<text x="362.73" y="544.00" font-size="7" font-weight="normal" fill="#555" font-family='"Liberation Sans", sans-serif' textLength="3.87" lengthAdjust="spacingAndGlyphs" >3</text>
<text transform="translate(345.40,508.07) rotate(-90)" x="0" y="0" font-size="12.5" font-weight="normal" fill="#444" font-family='"Liberation Sans", sans-serif' textLength="58.50" lengthAdjust="spacingAndGlyphs">Resistance</text>
<text transform="translate(345.40,439.45) rotate(-90)" x="0" y="0" font-size="12.5" font-weight="normal" fill="#444" font-family='"Liberation Sans", sans-serif' textLength="21.59" lengthAdjust="spacingAndGlyphs">(Ω)</text>
<text x="369.08" y="577.50" font-size="11.6" font-weight="normal" fill="#555" font-family='"Liberation Sans", sans-serif'>20</text>
<text x="405.95" y="577.50" font-size="11.6" font-weight="normal" fill="#555" font-family='"Liberation Sans", sans-serif'>30</text>
<text x="442.84" y="577.50" font-size="11.6" font-weight="normal" fill="#555" font-family='"Liberation Sans", sans-serif'>40</text>
<text x="479.54" y="577.50" font-size="11.6" font-weight="normal" fill="#555" font-family='"Liberation Sans", sans-serif'>50</text>
<text x="516.28" y="577.50" font-size="11.6" font-weight="normal" fill="#555" font-family='"Liberation Sans", sans-serif'>60</text>
<text x="553.08" y="577.50" font-size="11.6" font-weight="normal" fill="#555" font-family='"Liberation Sans", sans-serif'>70</text>
<text x="589.92" y="577.50" font-size="11.6" font-weight="normal" fill="#555" font-family='"Liberation Sans", sans-serif'>80</text>
<text x="626.70" y="577.50" font-size="11.6" font-weight="normal" fill="#555" font-family='"Liberation Sans", sans-serif'>90</text>
<text x="660.11" y="577.50" font-size="11.6" font-weight="normal" fill="#555" font-family='"Liberation Sans", sans-serif'>100</text>
<text x="455.89" y="595.00" font-size="13.5" font-weight="normal" fill="#333" font-family='"Liberation Sans", sans-serif' textLength="79.02" lengthAdjust="spacingAndGlyphs" >Temperature</text>
<text x="544.48" y="595.00" font-size="12.5" font-weight="normal" fill="#333" font-family='"Liberation Sans", sans-serif' textLength="4.40" lengthAdjust="spacingAndGlyphs" >(</text>
<text x="551.96" y="595.00" font-size="12.5" font-weight="normal" fill="#333" font-family='"Liberation Sans", sans-serif' textLength="4.28" lengthAdjust="spacingAndGlyphs" >°</text>
<text x="557.02" y="595.00" font-size="12.5" font-weight="normal" fill="#333" font-family='"Liberation Sans", sans-serif' textLength="9.69" lengthAdjust="spacingAndGlyphs" >C</text>
<text x="566.73" y="595.00" font-size="12.5" font-weight="normal" fill="#333" font-family='"Liberation Sans", sans-serif' textLength="3.77" lengthAdjust="spacingAndGlyphs" >)</text>
<path d="M394.00,360.60 C398.33,361.77 411.05,365.20 420.00,367.60 C428.95,370.00 439.37,372.93 447.70,375.00 C456.03,377.07 463.77,378.52 470.00,380.00 C476.23,381.48 482.58,383.25 485.10,383.90" fill="none" stroke="#1010e0" stroke-width="4.6" stroke-linecap="round" stroke-linejoin="round"/>
<polyline points="485.1,383.9 485.6,384.1 486.1,384.2 486.5,384.4 487.1,384.5 487.6,384.7 488.1,384.9 488.6,385.1 489.1,385.2 489.6,385.4 490.1,385.5 490.6,385.7 491.2,385.9 491.7,386.1 492.3,386.3 492.8,386.4 493.4,386.6 493.9,386.8 494.5,387.0 495.1,387.2 495.6,387.4 496.2,387.5 496.7,387.7 497.3,387.9 497.8,388.1 498.3,388.2 498.8,388.4 499.3,388.5 499.8,388.7 500.4,388.9 500.9,389.1 501.4,389.2 501.9,389.4 502.4,389.6 502.9,389.7 503.4,389.9 503.9,390.0 504.4,390.2 504.9,390.3 505.5,390.5 506.0,390.6 506.5,390.8 507.0,390.9 507.5,391.1 508.0,391.2 508.5,391.4 509.0,391.5 509.5,391.7 510.0,391.9 510.5,392.0 511.0,392.2 511.4,392.4 511.9,392.6 512.4,392.8 512.9,393.0 513.4,393.1 513.9,393.4 514.3,393.6 514.8,393.8 515.3,394.0 515.7,394.2 516.2,394.4 516.7,394.7 517.1,394.9 517.6,395.2 518.0,395.5 518.5,395.8 518.9,396.0 519.3,396.4 519.8,396.7 520.2,397.0 520.6,397.3 521.0,397.6 521.4,397.9 521.8,398.3 522.2,398.6 522.6,398.9 523.0,399.3 523.4,399.7 523.7,400.1 524.1,400.4 524.5,400.9 524.8,401.3 525.1,401.7 525.4,402.2 525.8,402.6 526.1,403.0 526.4,403.5 526.7,404.0 527.0,404.4 527.2,404.9 527.5,405.3 527.8,405.8 528.1,406.3 528.4,406.8 528.6,407.2 528.9,407.7 529.2,408.2 529.4,408.6 529.7,409.1 530.0,409.6 530.2,410.1 530.5,410.6 530.8,411.1 531.1,411.7 531.4,412.2 531.6,412.7 531.9,413.3 532.2,413.8 532.5,414.4 532.8,414.9 533.1,415.5 533.4,416.0 533.6,416.5 533.8,416.9 534.1,417.3 534.3,417.8 534.5,418.2 534.7,418.7 535.0,419.1 535.3,419.7 535.6,420.2 535.8,420.8 536.1,421.3 536.4,421.9 536.7,422.4 537.0,423.0 537.2,423.5 537.5,424.0 537.8,424.5 538.1,425.1 538.3,425.6 538.6,426.1 538.9,426.7 539.2,427.2 539.5,427.7 539.7,428.3 540.0,428.8 540.3,429.4 540.6,429.9 540.9,430.5 541.1,431.0 541.4,431.6 541.7,432.1 542.0,432.7 542.3,433.2 542.6,433.8 542.8,434.3 543.1,434.9 543.4,435.4 543.7,436.0 544.0,436.5 544.2,437.1 544.5,437.6 544.8,438.2 545.1,438.7 545.3,439.3 545.6,439.9 545.9,440.4 546.2,441.0 546.4,441.5 546.7,442.1 547.0,442.6 547.2,443.2 547.5,443.7 547.7,444.3 548.0,444.8 548.2,445.4 548.5,445.9 548.8,446.5 549.0,447.0 549.2,447.6 549.5,448.1 549.7,448.7 550.0,449.2 550.2,449.8 550.5,450.3 550.7,450.9 550.9,451.4 551.2,452.0 551.4,452.6 551.7,453.1 551.9,453.7 552.1,454.2 552.4,454.8 552.6,455.3 552.8,455.9 553.0,456.4 553.3,457.0 553.5,457.5 553.7,458.1 553.9,458.6 554.2,459.2 554.4,459.7 554.6,460.3 554.8,460.8 555.0,461.4 555.3,461.9" fill="none" stroke="#1010e0" stroke-width="3.8" stroke-linecap="round" stroke-linejoin="round"/>
<rect x="552.5" y="457.4" width="2.9" height="2.9" fill="#1010e0"/>
<rect x="553.8" y="460.7" width="2.9" height="2.9" fill="#1010e0"/>
<rect x="555.2" y="463.9" width="2.9" height="2.9" fill="#1010e0"/>
<rect x="556.5" y="467.3" width="2.9" height="2.9" fill="#1010e0"/>
<rect x="557.8" y="470.6" width="2.9" height="2.9" fill="#1010e0"/>
<rect x="559.1" y="474.0" width="2.9" height="2.9" fill="#1010e0"/>
<rect x="560.4" y="477.3" width="2.9" height="2.9" fill="#1010e0"/>
<rect x="561.5" y="480.7" width="2.9" height="2.9" fill="#1010e0"/>
<rect x="562.7" y="484.1" width="2.9" height="2.9" fill="#1010e0"/>
<rect x="563.7" y="487.4" width="2.9" height="2.9" fill="#1010e0"/>
<rect x="564.7" y="490.9" width="2.9" height="2.9" fill="#1010e0"/>
<rect x="565.6" y="494.3" width="2.9" height="2.9" fill="#1010e0"/>
<rect x="566.5" y="497.7" width="2.9" height="2.9" fill="#1010e0"/>
<rect x="567.3" y="501.2" width="2.9" height="2.9" fill="#1010e0"/>
<rect x="568.1" y="504.7" width="2.9" height="2.9" fill="#1010e0"/>
<polyline points="485.1,383.9 485.6,384.1 486.0,384.3 486.5,384.5 487.0,384.7 487.5,384.9 487.9,385.1 488.4,385.3 488.9,385.6 489.4,385.8 489.9,386.1 490.3,386.3 490.8,386.6 491.2,386.9 491.6,387.2 492.1,387.6 492.4,387.9 492.8,388.3 493.2,388.7 493.5,389.1 493.8,389.5 494.2,389.9 494.5,390.3 494.8,390.7 495.1,391.2 495.4,391.6 495.6,392.1 495.9,392.5 496.2,393.0 496.5,393.4 496.8,393.8 497.1,394.3 497.4,394.7 497.7,395.2 498.0,395.6 498.3,396.0 498.6,396.5 498.9,396.9 499.2,397.4 499.5,397.8 499.8,398.3 500.1,398.7 500.4,399.2 500.7,399.6 500.9,400.0 501.2,400.5 501.5,400.9 501.8,401.4 502.1,401.8 502.4,402.3 502.7,402.7 503.0,403.2 503.3,403.7 503.6,404.2 503.9,404.6 504.2,405.1 504.4,405.6 504.7,406.1 505.0,406.6 505.3,407.1 505.5,407.6 505.8,408.1 506.1,408.5 506.3,409.0 506.6,409.5 506.8,410.0 507.1,410.6 507.3,411.1 507.5,411.6 507.8,412.1 508.0,412.7 508.2,413.2 508.4,413.6 508.6,414.1 508.8,414.6 509.0,415.0 509.2,415.5 509.3,416.0 509.5,416.5 509.7,417.0 509.9,417.4 510.1,417.9 510.3,418.4 510.5,418.9 510.6,419.4 510.8,419.9" fill="none" stroke="#1010e0" stroke-width="3.6" stroke-linecap="round" stroke-linejoin="round"/>
<rect x="507.7" y="414.7" width="2.9" height="2.9" fill="#1010e0"/>
<rect x="509.1" y="418.2" width="2.9" height="2.9" fill="#1010e0"/>
<rect x="510.5" y="421.7" width="2.9" height="2.9" fill="#1010e0"/>
<rect x="511.9" y="425.1" width="2.9" height="2.9" fill="#1010e0"/>
<rect x="513.3" y="428.6" width="2.9" height="2.9" fill="#1010e0"/>
<rect x="514.8" y="432.0" width="2.9" height="2.9" fill="#1010e0"/>
<rect x="516.3" y="435.4" width="2.9" height="2.9" fill="#1010e0"/>
<rect x="517.8" y="438.9" width="2.9" height="2.9" fill="#1010e0"/>
<rect x="519.3" y="442.3" width="2.9" height="2.9" fill="#1010e0"/>
<rect x="520.9" y="445.7" width="2.9" height="2.9" fill="#1010e0"/>
<rect x="522.4" y="449.1" width="2.9" height="2.9" fill="#1010e0"/>
<rect x="523.6" y="452.6" width="2.9" height="2.9" fill="#1010e0"/>
<rect x="524.7" y="456.2" width="2.9" height="2.9" fill="#1010e0"/>
<rect x="525.7" y="459.9" width="2.9" height="2.9" fill="#1010e0"/>
<rect x="526.6" y="463.5" width="2.9" height="2.9" fill="#1010e0"/>
<rect x="527.5" y="467.1" width="2.9" height="2.9" fill="#1010e0"/>
<rect x="528.5" y="470.7" width="2.9" height="2.9" fill="#1010e0"/>
<rect x="529.5" y="474.3" width="2.9" height="2.9" fill="#1010e0"/>
<rect x="530.5" y="478.0" width="2.9" height="2.9" fill="#1010e0"/>
<rect x="531.5" y="481.6" width="2.9" height="2.9" fill="#1010e0"/>
<rect x="532.5" y="485.2" width="2.9" height="2.9" fill="#1010e0"/>
<rect x="533.4" y="488.8" width="2.9" height="2.9" fill="#1010e0"/>
<rect x="534.4" y="492.4" width="2.9" height="2.9" fill="#1010e0"/>
<rect x="535.3" y="496.1" width="2.9" height="2.9" fill="#1010e0"/>
<rect x="536.2" y="499.7" width="2.9" height="2.9" fill="#1010e0"/>
<rect x="537.1" y="503.4" width="2.9" height="2.9" fill="#1010e0"/>
<rect x="538.0" y="507.0" width="2.9" height="2.9" fill="#1010e0"/>
<rect x="538.9" y="510.7" width="2.9" height="2.9" fill="#1010e0"/>
<rect x="539.8" y="514.3" width="2.9" height="2.9" fill="#1010e0"/>
<rect x="540.8" y="518.0" width="2.9" height="2.9" fill="#1010e0"/>
<rect x="541.7" y="521.6" width="2.9" height="2.9" fill="#1010e0"/>
<rect x="542.6" y="525.2" width="2.9" height="2.9" fill="#1010e0"/>
<polyline points="543.5,525.2 543.7,525.7 543.8,526.2 544.0,526.7 544.2,527.3 544.4,527.7 544.5,528.2 544.7,528.7 544.9,529.2 545.1,529.7 545.3,530.1 545.5,530.6 545.8,531.1 546.0,531.5 546.3,532.0 546.5,532.5 546.8,532.9 547.1,533.3 547.4,533.7 547.7,534.1 548.0,534.5 548.4,534.9 548.7,535.4 549.0,535.7 549.4,536.1 549.7,536.5 550.1,536.8 550.5,537.2 550.9,537.5 551.3,537.9 551.7,538.2 552.1,538.6 552.5,538.9 552.9,539.2 553.3,539.6 553.7,539.9 554.2,540.2 554.6,540.5 555.0,540.8 555.5,541.1 555.9,541.4 556.4,541.7 556.8,542.0 557.3,542.3 557.7,542.6 558.2,542.8 558.7,543.1 559.1,543.4 559.6,543.6 560.1,543.9 560.5,544.1 561.0,544.3 561.4,544.5 561.9,544.7 562.4,544.9 562.9,545.1 563.4,545.3 563.9,545.5 564.4,545.7 564.9,545.9 565.4,546.0 565.8,546.2 566.3,546.3 566.8,546.5 567.3,546.6 567.8,546.7 568.4,546.9 568.9,547.0 569.4,547.1 569.9,547.2 570.4,547.4 571.0,547.5 571.5,547.6 572.0,547.7 572.5,547.8 573.0,547.9 573.6,548.0 574.1,548.1 574.6,548.2 575.1,548.3 575.6,548.4 576.1,548.5 576.6,548.6 577.2,548.7 577.7,548.8 578.2,548.9 578.7,548.9 579.2,549.0 579.7,549.1 580.3,549.2 580.8,549.2 581.3,549.3 581.9,549.4 582.4,549.5 582.9,549.5 583.4,549.6 584.0,549.7 584.5,549.7 585.0,549.8 585.5,549.9" fill="none" stroke="#1010e0" stroke-width="3.8" stroke-linecap="round" stroke-linejoin="round"/>
<path d="M571.50,522.50 C571.92,523.92 573.08,528.38 574.00,531.00 C574.92,533.62 575.83,535.95 577.00,538.20 C578.17,540.45 579.55,542.55 581.00,544.50 C582.45,546.45 584.92,549.00 585.70,549.90" fill="none" stroke="#1010e0" stroke-width="3" stroke-linecap="round"/>
<path d="M585.70,549.90 C588.08,550.32 594.53,551.65 600.00,552.40 C605.47,553.15 611.83,553.80 618.50,554.40 C625.17,555.00 631.60,555.47 640.00,556.00 C648.40,556.53 664.08,557.33 668.90,557.60" fill="none" stroke="#1010e0" stroke-width="5" stroke-linecap="round" stroke-linejoin="round"/>
</svg>
</body></html>
